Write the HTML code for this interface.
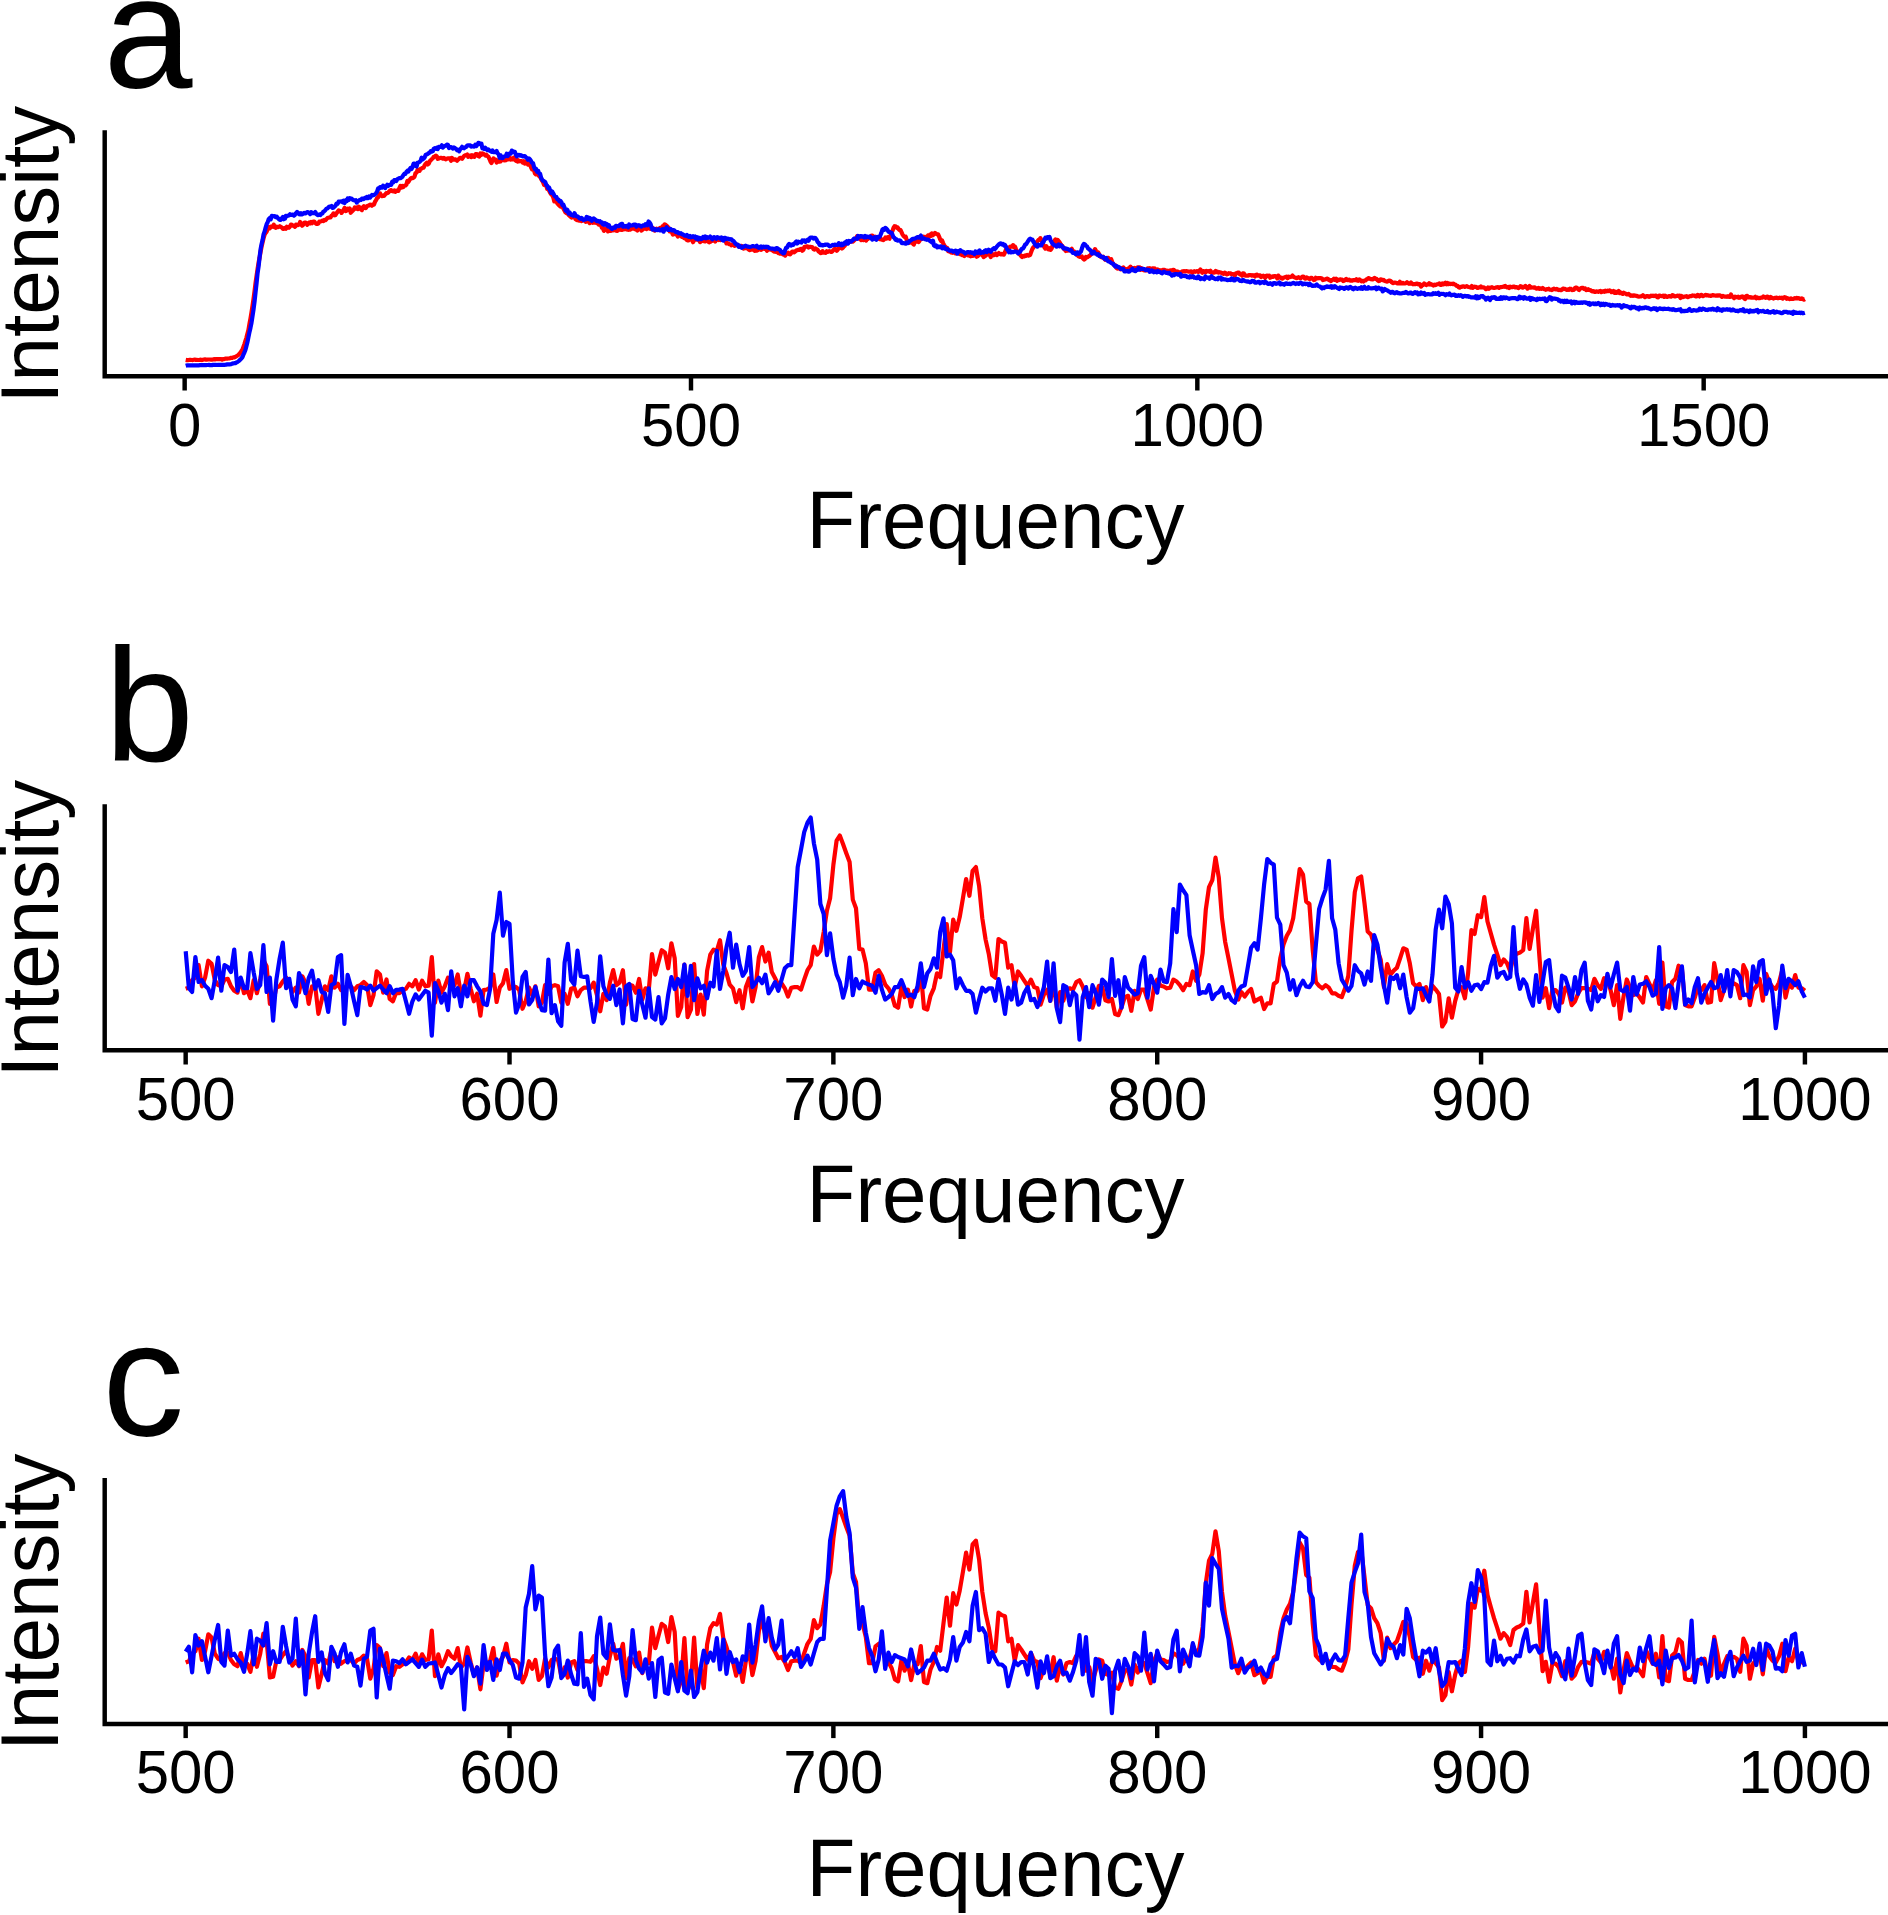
<!DOCTYPE html>
<html><head><meta charset="utf-8"><title>Figure</title>
<style>html,body{margin:0;padding:0;background:#fff}svg{display:block}text{font-family:'Liberation Sans', sans-serif;fill:#000}</style></head><body>
<svg width="1888" height="1915" viewBox="0 0 1888 1915">
<rect width="1888" height="1915" fill="#fff"/>
<path d="M185.7 359.9 L186.7 360.1 L187.7 360.2 L188.7 360.0 L189.7 359.8 L190.7 359.9 L191.7 360.0 L192.8 360.1 L193.8 359.8 L194.8 359.6 L195.8 359.9 L196.8 359.9 L197.8 360.0 L198.8 360.0 L199.8 359.8 L200.8 359.7 L201.9 360.1 L202.9 359.7 L203.9 359.5 L204.9 359.4 L205.9 359.6 L206.9 359.6 L207.9 359.5 L208.9 359.5 L210.0 359.5 L211.0 359.6 L212.0 359.6 L213.0 359.5 L214.0 359.1 L215.0 359.4 L216.0 359.1 L217.1 359.2 L218.1 359.0 L219.1 359.2 L220.1 359.1 L221.1 359.2 L222.1 359.7 L223.1 359.2 L224.1 359.1 L225.2 358.7 L226.2 358.6 L227.2 358.7 L228.2 358.5 L229.2 358.4 L230.2 358.2 L231.2 357.8 L232.2 357.8 L233.3 357.3 L234.3 357.5 L235.3 356.9 L236.3 356.4 L237.3 355.6 L238.3 355.1 L239.3 354.1 L240.3 352.8 L241.4 351.1 L242.4 349.8 L243.4 347.0 L244.4 344.1 L245.4 340.8 L246.4 337.8 L247.4 333.7 L248.4 330.1 L249.5 323.7 L250.5 318.4 L251.5 312.4 L252.5 305.7 L253.5 299.1 L254.5 291.5 L255.5 283.3 L256.6 275.5 L257.6 268.7 L258.6 262.5 L259.6 257.5 L260.6 251.8 L261.6 246.6 L262.6 242.3 L263.6 238.1 L264.6 234.7 L265.7 232.8 L266.7 231.6 L267.7 229.0 L268.7 227.2 L269.7 228.4 L270.7 226.6 L271.7 226.8 L272.8 226.7 L273.8 224.7 L274.8 227.4 L275.8 227.8 L276.8 226.7 L277.8 227.1 L278.8 226.9 L279.8 226.2 L280.9 226.9 L281.9 227.7 L282.9 228.8 L283.9 228.8 L284.9 227.9 L285.9 228.7 L286.9 226.8 L287.9 227.6 L289.0 227.8 L290.0 226.5 L291.0 224.6 L292.0 224.8 L293.0 225.7 L294.0 226.0 L295.0 226.8 L296.0 224.5 L297.1 224.7 L298.1 225.2 L299.1 224.4 L300.1 222.0 L301.1 224.1 L302.1 225.8 L303.1 224.9 L304.1 222.8 L305.2 222.5 L306.2 222.9 L307.2 224.8 L308.2 223.4 L309.2 222.5 L310.2 223.4 L311.2 221.9 L312.2 223.2 L313.3 221.5 L314.3 221.5 L315.3 222.8 L316.3 224.0 L317.3 223.8 L318.3 223.7 L319.3 221.6 L320.4 221.5 L321.4 221.1 L322.4 220.6 L323.4 221.1 L324.4 219.9 L325.4 220.2 L326.4 219.2 L327.4 218.1 L328.4 217.8 L329.5 217.5 L330.5 217.4 L331.5 215.7 L332.5 215.1 L333.5 213.4 L334.5 215.3 L335.5 215.1 L336.6 213.1 L337.6 211.9 L338.6 210.4 L339.6 210.9 L340.6 211.0 L341.6 212.9 L342.6 211.4 L343.6 210.0 L344.6 208.0 L345.7 211.1 L346.7 210.6 L347.7 208.8 L348.7 209.9 L349.7 208.4 L350.7 212.8 L351.7 211.5 L352.8 210.6 L353.8 209.6 L354.8 207.4 L355.8 208.6 L356.8 207.5 L357.8 209.1 L358.8 206.8 L359.8 207.3 L360.9 209.3 L361.9 210.1 L362.9 207.4 L363.9 206.2 L364.9 207.9 L365.9 208.1 L366.9 206.2 L367.9 205.8 L369.0 205.5 L370.0 204.7 L371.0 204.8 L372.0 205.7 L373.0 204.4 L374.0 204.6 L375.0 201.7 L376.1 200.1 L377.1 198.0 L378.1 197.4 L379.1 195.2 L380.1 193.4 L381.1 195.2 L382.1 196.2 L383.1 195.7 L384.1 195.8 L385.2 194.5 L386.2 193.1 L387.2 193.2 L388.2 192.6 L389.2 191.5 L390.2 190.4 L391.2 190.1 L392.2 191.2 L393.3 191.3 L394.3 190.5 L395.3 191.9 L396.3 190.7 L397.3 190.6 L398.3 190.9 L399.3 188.3 L400.4 186.0 L401.4 187.6 L402.4 185.9 L403.4 187.0 L404.4 185.7 L405.4 185.5 L406.4 184.7 L407.4 180.8 L408.4 181.9 L409.5 180.0 L410.5 178.7 L411.5 177.9 L412.5 178.2 L413.5 177.6 L414.5 176.8 L415.5 173.1 L416.6 172.6 L417.6 169.8 L418.6 170.7 L419.6 170.9 L420.6 168.8 L421.6 168.5 L422.6 167.8 L423.6 167.7 L424.7 165.1 L425.7 163.7 L426.7 162.8 L427.7 164.5 L428.7 163.6 L429.7 161.3 L430.7 160.3 L431.7 159.2 L432.8 158.2 L433.8 156.8 L434.8 156.5 L435.8 155.6 L436.8 156.2 L437.8 158.9 L438.8 158.5 L439.9 158.1 L440.9 157.8 L441.9 158.1 L442.9 158.7 L443.9 157.9 L444.9 158.8 L445.9 159.3 L446.9 158.5 L447.9 158.4 L449.0 158.3 L450.0 158.4 L451.0 160.7 L452.0 158.0 L453.0 159.7 L454.0 159.7 L455.0 159.3 L456.1 159.7 L457.1 160.7 L458.1 159.6 L459.1 158.8 L460.1 157.8 L461.1 157.9 L462.1 158.8 L463.1 157.4 L464.1 156.0 L465.2 155.3 L466.2 155.1 L467.2 154.5 L468.2 156.8 L469.2 156.4 L470.2 155.4 L471.2 157.1 L472.2 155.3 L473.3 156.5 L474.3 156.9 L475.3 154.5 L476.3 154.0 L477.3 154.5 L478.3 156.1 L479.3 156.5 L480.4 153.5 L481.4 154.9 L482.4 153.4 L483.4 153.9 L484.4 154.5 L485.4 155.5 L486.4 154.7 L487.4 156.0 L488.4 156.7 L489.5 159.0 L490.5 161.5 L491.5 163.0 L492.5 160.3 L493.5 158.4 L494.5 159.6 L495.5 159.5 L496.6 162.5 L497.6 161.8 L498.6 160.2 L499.6 161.6 L500.6 161.5 L501.6 159.2 L502.6 159.7 L503.6 160.2 L504.7 160.5 L505.7 160.3 L506.7 159.5 L507.7 159.5 L508.7 158.4 L509.7 157.5 L510.7 159.5 L511.8 159.1 L512.8 159.4 L513.8 157.6 L514.8 159.0 L515.8 160.7 L516.8 159.2 L517.8 161.6 L518.8 160.6 L519.9 161.3 L520.9 161.0 L521.9 161.3 L522.9 162.6 L523.9 161.2 L524.9 163.6 L525.9 162.2 L526.9 162.3 L528.0 164.6 L529.0 163.8 L530.0 164.8 L531.0 167.2 L532.0 169.2 L533.0 167.4 L534.0 170.4 L535.0 173.5 L536.0 174.5 L537.1 174.2 L538.1 174.7 L539.1 176.2 L540.1 176.8 L541.1 178.9 L542.1 180.6 L543.1 182.2 L544.1 185.0 L545.2 185.3 L546.2 185.2 L547.2 189.0 L548.2 189.0 L549.2 190.8 L550.2 192.8 L551.2 194.3 L552.2 195.2 L553.3 197.4 L554.3 201.4 L555.3 200.3 L556.3 201.3 L557.3 203.5 L558.3 204.4 L559.3 205.4 L560.4 206.5 L561.4 204.9 L562.4 206.4 L563.4 208.6 L564.4 210.4 L565.4 212.4 L566.4 213.1 L567.4 213.5 L568.5 214.7 L569.5 215.7 L570.5 216.6 L571.5 217.5 L572.5 217.0 L573.5 216.7 L574.5 216.9 L575.5 219.0 L576.6 219.9 L577.6 220.2 L578.6 220.4 L579.6 220.7 L580.6 220.2 L581.6 221.0 L582.6 219.9 L583.6 220.5 L584.7 220.3 L585.7 221.7 L586.7 220.9 L587.7 221.3 L588.7 221.9 L589.7 223.1 L590.7 221.6 L591.8 221.2 L592.8 222.8 L593.8 221.5 L594.8 222.7 L595.8 222.2 L596.8 223.1 L597.8 222.2 L598.8 224.7 L599.9 224.7 L600.9 224.8 L601.9 227.9 L602.9 228.0 L603.9 230.9 L604.9 229.3 L605.9 228.7 L606.9 229.4 L608.0 231.4 L609.0 230.9 L610.0 231.0 L611.0 231.0 L612.0 229.7 L613.0 230.3 L614.0 229.8 L615.0 229.0 L616.0 230.7 L617.1 230.8 L618.1 230.3 L619.1 229.3 L620.1 228.0 L621.1 229.9 L622.1 229.8 L623.1 228.3 L624.1 229.3 L625.2 228.2 L626.2 229.2 L627.2 229.6 L628.2 229.8 L629.2 229.7 L630.2 229.6 L631.2 228.3 L632.2 228.7 L633.3 228.6 L634.3 228.8 L635.3 229.2 L636.3 229.6 L637.3 230.5 L638.3 227.0 L639.3 228.7 L640.4 228.5 L641.4 230.6 L642.4 229.9 L643.4 227.4 L644.4 228.5 L645.4 228.0 L646.4 229.1 L647.4 227.7 L648.5 228.3 L649.5 228.6 L650.5 228.9 L651.5 228.7 L652.5 227.7 L653.5 229.6 L654.5 230.7 L655.5 230.1 L656.6 228.7 L657.6 229.1 L658.6 229.2 L659.6 228.2 L660.6 227.8 L661.6 228.7 L662.6 226.3 L663.6 225.9 L664.7 224.3 L665.7 224.8 L666.7 225.9 L667.7 226.8 L668.7 228.0 L669.7 231.3 L670.7 231.1 L671.8 231.9 L672.8 234.6 L673.8 233.7 L674.8 232.3 L675.8 234.3 L676.8 233.9 L677.8 236.5 L678.8 235.0 L679.9 235.6 L680.9 235.2 L681.9 237.0 L682.9 236.8 L683.9 238.0 L684.9 238.4 L685.9 238.7 L686.9 240.1 L688.0 240.5 L689.0 240.0 L690.0 239.1 L691.0 238.8 L692.0 240.0 L693.0 242.2 L694.0 240.4 L695.0 239.7 L696.0 239.7 L697.1 239.5 L698.1 239.6 L699.1 240.4 L700.1 242.1 L701.1 241.3 L702.1 240.8 L703.1 239.8 L704.1 241.2 L705.2 241.5 L706.2 240.6 L707.2 240.6 L708.2 241.5 L709.2 242.3 L710.2 241.9 L711.2 241.3 L712.3 240.4 L713.3 240.6 L714.3 240.1 L715.3 241.6 L716.3 239.0 L717.3 238.8 L718.3 239.9 L719.4 238.6 L720.4 240.0 L721.4 239.5 L722.4 239.9 L723.4 240.0 L724.4 239.5 L725.4 240.1 L726.4 243.4 L727.5 243.2 L728.5 243.5 L729.5 244.3 L730.5 244.5 L731.5 245.3 L732.5 244.7 L733.5 244.7 L734.5 245.9 L735.5 245.3 L736.6 244.5 L737.6 245.4 L738.6 245.6 L739.6 246.8 L740.6 246.1 L741.6 245.9 L742.6 246.6 L743.6 248.6 L744.7 247.9 L745.7 248.1 L746.7 248.2 L747.7 248.7 L748.7 249.5 L749.7 250.1 L750.7 247.7 L751.8 249.6 L752.8 249.0 L753.8 248.7 L754.8 250.8 L755.8 249.3 L756.8 250.7 L757.8 250.2 L758.8 248.5 L759.9 249.4 L760.9 249.8 L761.9 249.3 L762.9 247.3 L763.9 248.5 L764.9 249.0 L765.9 248.4 L766.9 250.7 L768.0 249.6 L769.0 249.2 L770.0 249.6 L771.0 249.5 L772.0 249.8 L773.0 250.9 L774.0 251.6 L775.0 251.4 L776.1 252.0 L777.1 251.4 L778.1 253.0 L779.1 252.7 L780.1 253.7 L781.1 253.3 L782.1 253.8 L783.1 254.5 L784.2 253.2 L785.2 255.7 L786.2 254.2 L787.2 253.6 L788.2 252.7 L789.2 254.2 L790.2 254.3 L791.2 253.2 L792.3 251.5 L793.3 251.5 L794.3 252.3 L795.3 251.4 L796.3 250.5 L797.3 250.1 L798.3 249.9 L799.4 250.0 L800.4 249.1 L801.4 248.9 L802.4 250.7 L803.4 249.9 L804.4 246.9 L805.4 246.8 L806.4 246.3 L807.5 246.3 L808.5 247.5 L809.5 246.8 L810.5 246.9 L811.5 247.0 L812.5 247.5 L813.5 249.1 L814.5 249.6 L815.5 248.4 L816.6 249.3 L817.6 249.7 L818.6 251.6 L819.6 252.0 L820.6 253.1 L821.6 253.0 L822.6 251.2 L823.6 252.6 L824.7 252.7 L825.7 252.8 L826.7 251.3 L827.7 251.9 L828.7 251.4 L829.7 251.2 L830.7 251.8 L831.8 251.9 L832.8 250.8 L833.8 249.8 L834.8 248.8 L835.8 249.7 L836.8 250.8 L837.8 249.7 L838.8 247.1 L839.9 247.2 L840.9 247.8 L841.9 248.5 L842.9 247.8 L843.9 246.5 L844.9 245.6 L845.9 243.8 L846.9 243.4 L848.0 242.9 L849.0 242.0 L850.0 241.9 L851.0 241.1 L852.0 241.0 L853.0 241.5 L854.0 240.5 L855.0 239.5 L856.1 238.2 L857.1 236.3 L858.1 237.6 L859.1 238.7 L860.1 238.0 L861.1 240.0 L862.1 239.4 L863.1 240.2 L864.2 239.8 L865.2 238.4 L866.2 240.5 L867.2 237.9 L868.2 238.7 L869.2 237.2 L870.2 237.2 L871.2 235.8 L872.3 235.5 L873.3 236.9 L874.3 238.5 L875.3 236.8 L876.3 237.4 L877.3 238.7 L878.3 238.0 L879.4 239.2 L880.4 238.6 L881.4 239.6 L882.4 239.5 L883.4 240.0 L884.4 239.2 L885.4 237.5 L886.4 238.6 L887.5 237.2 L888.5 238.2 L889.5 238.7 L890.5 235.7 L891.5 232.1 L892.5 230.9 L893.5 227.9 L894.5 226.2 L895.5 226.4 L896.6 227.8 L897.6 227.5 L898.6 229.0 L899.6 230.1 L900.6 230.2 L901.6 232.3 L902.6 234.6 L903.6 236.0 L904.7 237.1 L905.7 236.7 L906.7 240.2 L907.7 241.0 L908.7 241.9 L909.7 242.8 L910.7 242.1 L911.8 242.2 L912.8 243.5 L913.8 244.6 L914.8 241.6 L915.8 241.7 L916.8 241.0 L917.8 241.5 L918.8 242.0 L919.9 240.2 L920.9 238.6 L921.9 238.9 L922.9 238.3 L923.9 236.8 L924.9 238.2 L925.9 237.0 L926.9 237.4 L928.0 235.5 L929.0 236.8 L930.0 234.6 L931.0 235.9 L932.0 233.4 L933.0 235.2 L934.0 234.1 L935.0 232.9 L936.1 233.7 L937.1 234.4 L938.1 234.3 L939.1 236.6 L940.1 239.3 L941.1 241.1 L942.1 240.4 L943.1 243.1 L944.2 245.3 L945.2 246.5 L946.2 248.1 L947.2 247.9 L948.2 251.2 L949.2 251.4 L950.2 251.8 L951.2 252.5 L952.3 252.8 L953.3 252.4 L954.3 251.9 L955.3 253.4 L956.3 253.5 L957.3 251.8 L958.3 252.3 L959.4 253.9 L960.4 254.2 L961.4 254.6 L962.4 255.2 L963.4 254.9 L964.4 256.0 L965.4 254.6 L966.4 254.4 L967.5 255.0 L968.5 255.5 L969.5 255.7 L970.5 256.3 L971.5 254.9 L972.5 255.9 L973.5 255.7 L974.5 254.4 L975.5 254.9 L976.6 256.8 L977.6 256.2 L978.6 255.2 L979.6 253.4 L980.6 254.3 L981.6 254.6 L982.6 255.3 L983.6 257.1 L984.7 256.3 L985.7 255.7 L986.7 254.5 L987.7 253.9 L988.7 254.5 L989.7 254.4 L990.7 257.1 L991.8 254.9 L992.8 254.2 L993.8 255.3 L994.8 254.7 L995.8 253.5 L996.8 255.1 L997.8 254.2 L998.8 253.1 L999.9 254.1 L1000.9 254.4 L1001.9 253.8 L1002.9 254.4 L1003.9 254.6 L1004.9 252.5 L1005.9 249.7 L1007.0 247.7 L1008.0 247.9 L1009.0 248.1 L1010.0 246.8 L1011.0 246.5 L1012.0 246.6 L1013.0 245.1 L1014.0 247.1 L1015.0 246.6 L1016.1 249.5 L1017.1 251.2 L1018.1 252.4 L1019.1 253.7 L1020.1 254.7 L1021.1 256.1 L1022.1 257.1 L1023.1 256.0 L1024.2 256.4 L1025.2 255.4 L1026.2 255.8 L1027.2 254.9 L1028.2 255.7 L1029.2 255.3 L1030.2 254.8 L1031.2 251.9 L1032.3 249.1 L1033.3 247.4 L1034.3 246.5 L1035.3 245.3 L1036.3 242.4 L1037.3 241.5 L1038.3 240.1 L1039.3 239.9 L1040.4 238.1 L1041.4 240.4 L1042.4 241.6 L1043.4 245.2 L1044.4 247.3 L1045.4 248.6 L1046.4 246.3 L1047.5 248.5 L1048.5 249.3 L1049.5 248.2 L1050.5 249.9 L1051.5 248.6 L1052.5 246.1 L1053.5 243.3 L1054.5 240.7 L1055.5 239.4 L1056.6 242.0 L1057.6 239.9 L1058.6 241.1 L1059.6 242.4 L1060.6 244.1 L1061.6 245.3 L1062.6 246.2 L1063.7 248.8 L1064.7 249.4 L1065.7 251.0 L1066.7 249.4 L1067.7 250.6 L1068.7 250.1 L1069.7 250.4 L1070.8 249.7 L1071.8 248.8 L1072.8 251.0 L1073.8 251.2 L1074.8 252.4 L1075.8 252.9 L1076.8 254.8 L1077.8 255.4 L1078.8 256.4 L1079.9 257.0 L1080.9 256.8 L1081.9 256.5 L1082.9 258.3 L1083.9 259.5 L1084.9 259.0 L1085.9 256.9 L1087.0 257.3 L1088.0 256.8 L1089.0 256.1 L1090.0 255.5 L1091.0 254.3 L1092.0 253.6 L1093.0 253.2 L1094.0 251.2 L1095.0 249.1 L1096.1 251.1 L1097.1 252.7 L1098.1 252.3 L1099.1 254.0 L1100.1 256.3 L1101.1 257.1 L1102.1 257.5 L1103.2 256.7 L1104.2 258.4 L1105.2 259.7 L1106.2 258.6 L1107.2 258.1 L1108.2 257.9 L1109.2 259.6 L1110.2 259.6 L1111.2 259.2 L1112.3 262.3 L1113.3 263.9 L1114.3 265.5 L1115.3 265.3 L1116.3 267.8 L1117.3 268.5 L1118.3 267.3 L1119.3 268.6 L1120.4 269.3 L1121.4 269.2 L1122.4 267.9 L1123.4 267.5 L1124.4 268.7 L1125.4 269.0 L1126.4 269.3 L1127.5 269.3 L1128.5 268.4 L1129.5 267.9 L1130.5 266.7 L1131.5 268.4 L1132.5 270.0 L1133.5 268.3 L1134.5 267.9 L1135.6 268.7 L1136.6 268.7 L1137.6 267.4 L1138.6 267.6 L1139.6 267.4 L1140.6 269.8 L1141.6 268.3 L1142.7 269.2 L1143.7 270.2 L1144.7 270.5 L1145.7 270.3 L1146.7 270.4 L1147.7 268.3 L1148.7 268.5 L1149.7 268.2 L1150.8 268.6 L1151.8 270.9 L1152.8 268.3 L1153.8 269.4 L1154.8 268.4 L1155.8 270.2 L1156.8 270.7 L1157.8 269.5 L1158.8 271.2 L1159.9 270.2 L1160.9 271.0 L1161.9 270.5 L1162.9 269.8 L1163.9 269.8 L1164.9 270.1 L1165.9 270.8 L1167.0 270.7 L1168.0 272.4 L1169.0 271.0 L1170.0 270.5 L1171.0 270.3 L1172.0 270.3 L1173.0 269.8 L1174.0 270.1 L1175.0 271.7 L1176.1 271.6 L1177.1 271.4 L1178.1 271.8 L1179.1 272.4 L1180.1 272.3 L1181.1 272.4 L1182.1 271.4 L1183.2 271.4 L1184.2 271.1 L1185.2 271.5 L1186.2 271.1 L1187.2 271.3 L1188.2 271.6 L1189.2 271.6 L1190.2 271.6 L1191.2 271.4 L1192.3 272.8 L1193.3 271.9 L1194.3 271.2 L1195.3 271.9 L1196.3 271.2 L1197.3 271.0 L1198.3 271.9 L1199.4 270.8 L1200.4 269.4 L1201.4 271.7 L1202.4 272.8 L1203.4 271.1 L1204.4 271.3 L1205.4 272.4 L1206.4 270.8 L1207.5 271.3 L1208.5 271.2 L1209.5 271.9 L1210.5 270.8 L1211.5 272.7 L1212.5 272.4 L1213.5 272.7 L1214.5 272.4 L1215.6 271.0 L1216.6 272.2 L1217.6 271.7 L1218.6 272.6 L1219.6 272.2 L1220.6 272.6 L1221.6 272.8 L1222.7 273.6 L1223.7 273.9 L1224.7 272.7 L1225.7 273.2 L1226.7 274.4 L1227.7 274.1 L1228.7 273.2 L1229.7 273.4 L1230.8 273.4 L1231.8 274.4 L1232.8 274.0 L1233.8 274.2 L1234.8 275.7 L1235.8 273.4 L1236.8 273.2 L1237.8 272.6 L1238.8 272.7 L1239.9 274.5 L1240.9 274.6 L1241.9 275.7 L1242.9 273.3 L1243.9 273.6 L1244.9 275.4 L1245.9 275.6 L1247.0 275.6 L1248.0 275.7 L1249.0 275.1 L1250.0 275.0 L1251.0 275.0 L1252.0 275.7 L1253.0 275.2 L1254.0 275.4 L1255.0 276.4 L1256.1 274.8 L1257.1 274.7 L1258.1 275.7 L1259.1 275.4 L1260.1 275.4 L1261.1 277.1 L1262.1 276.4 L1263.2 275.6 L1264.2 276.6 L1265.2 277.9 L1266.2 275.7 L1267.2 275.5 L1268.2 276.1 L1269.2 275.7 L1270.2 277.7 L1271.3 277.1 L1272.3 276.3 L1273.3 276.8 L1274.3 276.0 L1275.3 276.0 L1276.3 276.6 L1277.3 278.4 L1278.3 275.6 L1279.4 276.8 L1280.4 277.9 L1281.4 277.7 L1282.4 278.6 L1283.4 277.8 L1284.4 277.4 L1285.4 277.1 L1286.5 276.6 L1287.5 278.3 L1288.5 276.7 L1289.5 277.1 L1290.5 276.9 L1291.5 276.7 L1292.5 275.6 L1293.5 276.7 L1294.5 277.4 L1295.6 277.6 L1296.6 278.2 L1297.6 277.6 L1298.6 277.2 L1299.6 277.8 L1300.6 278.2 L1301.6 277.2 L1302.7 276.5 L1303.7 276.8 L1304.7 278.4 L1305.7 278.7 L1306.7 277.5 L1307.7 277.9 L1308.7 278.6 L1309.7 279.1 L1310.8 277.9 L1311.8 277.9 L1312.8 279.1 L1313.8 280.1 L1314.8 279.8 L1315.8 277.8 L1316.8 278.5 L1317.8 278.1 L1318.8 278.3 L1319.9 278.0 L1320.9 278.1 L1321.9 278.5 L1322.9 280.0 L1323.9 279.7 L1324.9 279.4 L1325.9 279.2 L1327.0 278.6 L1328.0 278.9 L1329.0 280.1 L1330.0 280.2 L1331.0 281.1 L1332.0 280.1 L1333.0 279.8 L1334.0 278.6 L1335.0 279.8 L1336.1 278.7 L1337.1 280.8 L1338.1 279.8 L1339.1 280.1 L1340.1 279.3 L1341.1 279.7 L1342.1 279.6 L1343.2 281.1 L1344.2 280.8 L1345.2 279.8 L1346.2 278.9 L1347.2 280.1 L1348.2 280.1 L1349.2 279.6 L1350.2 280.7 L1351.3 280.4 L1352.3 280.6 L1353.3 280.1 L1354.3 280.0 L1355.3 280.1 L1356.3 279.2 L1357.3 280.6 L1358.3 280.8 L1359.4 279.4 L1360.4 280.3 L1361.4 281.3 L1362.4 280.9 L1363.4 281.5 L1364.4 280.6 L1365.4 280.5 L1366.5 279.3 L1367.5 279.1 L1368.5 278.1 L1369.5 278.4 L1370.5 279.1 L1371.5 279.2 L1372.5 279.5 L1373.5 278.7 L1374.5 277.9 L1375.6 278.9 L1376.6 278.9 L1377.6 280.4 L1378.6 281.1 L1379.6 280.7 L1380.6 279.3 L1381.6 279.5 L1382.7 280.2 L1383.7 279.9 L1384.7 280.9 L1385.7 281.3 L1386.7 281.6 L1387.7 281.4 L1388.7 280.6 L1389.7 280.6 L1390.8 281.2 L1391.8 282.4 L1392.8 283.1 L1393.8 282.9 L1394.8 282.5 L1395.8 282.7 L1396.8 283.0 L1397.8 283.5 L1398.8 283.4 L1399.9 281.8 L1400.9 283.3 L1401.9 283.4 L1402.9 282.9 L1403.9 283.5 L1404.9 283.5 L1405.9 283.3 L1407.0 282.2 L1408.0 283.2 L1409.0 283.8 L1410.0 283.6 L1411.0 282.5 L1412.0 283.7 L1413.0 284.3 L1414.0 284.1 L1415.1 284.2 L1416.1 283.8 L1417.1 283.5 L1418.1 284.3 L1419.1 284.0 L1420.1 284.3 L1421.1 286.6 L1422.1 285.4 L1423.2 284.8 L1424.2 283.4 L1425.2 284.4 L1426.2 285.1 L1427.2 284.3 L1428.2 284.5 L1429.2 283.1 L1430.2 284.6 L1431.3 284.2 L1432.3 284.9 L1433.3 285.5 L1434.3 284.6 L1435.3 285.1 L1436.3 284.7 L1437.3 284.2 L1438.3 284.0 L1439.4 283.5 L1440.4 284.9 L1441.4 284.9 L1442.4 283.5 L1443.4 284.4 L1444.4 283.5 L1445.4 282.7 L1446.5 284.3 L1447.5 282.9 L1448.5 284.2 L1449.5 283.7 L1450.5 284.1 L1451.5 283.8 L1452.5 284.1 L1453.5 283.6 L1454.5 284.4 L1455.6 284.8 L1456.6 286.0 L1457.6 285.8 L1458.6 287.1 L1459.6 287.7 L1460.6 286.8 L1461.6 287.0 L1462.7 286.4 L1463.7 286.4 L1464.7 286.9 L1465.7 286.6 L1466.7 286.2 L1467.7 286.7 L1468.7 287.0 L1469.7 287.2 L1470.8 287.6 L1471.8 286.0 L1472.8 287.8 L1473.8 287.2 L1474.8 286.7 L1475.8 286.9 L1476.8 287.5 L1477.8 288.0 L1478.9 287.3 L1479.9 287.5 L1480.9 286.4 L1481.9 287.4 L1482.9 287.5 L1483.9 287.3 L1484.9 288.2 L1485.9 289.1 L1487.0 288.8 L1488.0 287.5 L1489.0 288.7 L1490.0 287.7 L1491.0 287.6 L1492.0 287.2 L1493.0 287.8 L1494.0 288.0 L1495.1 287.7 L1496.1 287.4 L1497.1 287.3 L1498.1 287.1 L1499.1 287.9 L1500.1 287.1 L1501.1 287.1 L1502.2 287.0 L1503.2 286.6 L1504.2 286.8 L1505.2 286.0 L1506.2 287.1 L1507.2 287.4 L1508.2 286.9 L1509.2 288.0 L1510.2 286.6 L1511.3 287.1 L1512.3 287.2 L1513.3 286.5 L1514.3 286.6 L1515.3 287.5 L1516.3 287.1 L1517.3 287.3 L1518.3 288.1 L1519.4 287.5 L1520.4 286.1 L1521.4 286.5 L1522.4 287.7 L1523.4 287.4 L1524.4 286.7 L1525.4 285.9 L1526.5 287.4 L1527.5 288.6 L1528.5 287.0 L1529.5 286.0 L1530.5 287.7 L1531.5 287.4 L1532.5 287.5 L1533.5 287.6 L1534.5 287.3 L1535.6 288.1 L1536.6 288.7 L1537.6 288.5 L1538.6 287.9 L1539.6 288.9 L1540.6 288.4 L1541.6 288.8 L1542.7 288.0 L1543.7 288.9 L1544.7 289.2 L1545.7 289.8 L1546.7 289.1 L1547.7 289.3 L1548.7 288.7 L1549.7 289.6 L1550.8 289.8 L1551.8 290.1 L1552.8 289.3 L1553.8 288.6 L1554.8 289.2 L1555.8 289.3 L1556.8 288.9 L1557.8 289.7 L1558.9 290.1 L1559.9 289.8 L1560.9 290.2 L1561.9 289.8 L1562.9 288.7 L1563.9 288.7 L1564.9 288.9 L1566.0 289.6 L1567.0 289.9 L1568.0 289.4 L1569.0 289.9 L1570.0 288.7 L1571.0 288.9 L1572.0 290.0 L1573.0 289.5 L1574.0 289.8 L1575.1 287.9 L1576.1 287.5 L1577.1 287.9 L1578.1 289.3 L1579.1 290.0 L1580.1 288.7 L1581.1 288.1 L1582.2 287.9 L1583.2 287.9 L1584.2 288.9 L1585.2 288.5 L1586.2 290.1 L1587.2 290.0 L1588.2 289.2 L1589.2 289.9 L1590.2 290.0 L1591.3 290.9 L1592.3 291.4 L1593.3 291.0 L1594.3 291.8 L1595.3 291.8 L1596.3 291.3 L1597.3 291.5 L1598.3 291.8 L1599.4 291.3 L1600.4 290.9 L1601.4 292.2 L1602.4 291.7 L1603.4 291.2 L1604.4 291.8 L1605.4 290.6 L1606.5 291.4 L1607.5 290.7 L1608.5 291.2 L1609.5 290.4 L1610.5 290.9 L1611.5 292.2 L1612.5 291.8 L1613.5 291.0 L1614.5 292.8 L1615.6 291.7 L1616.6 292.9 L1617.6 291.9 L1618.6 291.0 L1619.6 293.1 L1620.6 292.4 L1621.6 293.2 L1622.7 293.9 L1623.7 292.6 L1624.7 293.5 L1625.7 293.5 L1626.7 294.4 L1627.7 294.5 L1628.7 293.9 L1629.7 294.9 L1630.8 295.8 L1631.8 295.4 L1632.8 295.8 L1633.8 295.3 L1634.8 295.5 L1635.8 295.8 L1636.8 295.8 L1637.8 296.5 L1638.9 296.6 L1639.9 296.5 L1640.9 296.4 L1641.9 296.1 L1642.9 295.2 L1643.9 296.4 L1644.9 297.2 L1646.0 296.5 L1647.0 296.0 L1648.0 296.1 L1649.0 296.9 L1650.0 296.5 L1651.0 295.7 L1652.0 296.0 L1653.0 295.7 L1654.0 296.1 L1655.1 295.7 L1656.1 295.7 L1657.1 297.2 L1658.1 297.3 L1659.1 295.7 L1660.1 295.7 L1661.1 296.1 L1662.2 296.2 L1663.2 295.6 L1664.2 296.9 L1665.2 295.6 L1666.2 296.8 L1667.2 297.0 L1668.2 296.4 L1669.2 296.1 L1670.2 296.4 L1671.3 296.6 L1672.3 295.2 L1673.3 295.3 L1674.3 296.5 L1675.3 296.4 L1676.3 296.1 L1677.3 295.7 L1678.3 295.8 L1679.4 295.7 L1680.4 298.0 L1681.4 296.0 L1682.4 297.2 L1683.4 296.9 L1684.4 296.6 L1685.4 296.5 L1686.5 296.1 L1687.5 297.2 L1688.5 296.8 L1689.5 296.3 L1690.5 296.1 L1691.5 296.2 L1692.5 295.4 L1693.5 295.7 L1694.6 295.5 L1695.6 296.3 L1696.6 296.4 L1697.6 294.9 L1698.6 295.5 L1699.6 296.4 L1700.6 295.1 L1701.6 294.9 L1702.7 296.2 L1703.7 295.8 L1704.7 295.4 L1705.7 294.8 L1706.7 295.5 L1707.7 295.2 L1708.7 295.6 L1709.8 295.8 L1710.8 296.0 L1711.8 295.4 L1712.8 295.1 L1713.8 295.4 L1714.8 295.5 L1715.8 295.7 L1716.8 295.4 L1717.8 295.6 L1718.9 295.4 L1719.9 295.4 L1720.9 296.0 L1721.9 296.8 L1722.9 296.0 L1723.9 296.5 L1724.9 296.6 L1726.0 296.5 L1727.0 296.9 L1728.0 296.2 L1729.0 296.8 L1730.0 296.9 L1731.0 294.5 L1732.0 296.4 L1733.0 297.1 L1734.0 298.2 L1735.1 296.6 L1736.1 297.0 L1737.1 297.3 L1738.1 296.6 L1739.1 297.8 L1740.1 297.6 L1741.1 296.8 L1742.2 296.4 L1743.2 296.8 L1744.2 298.6 L1745.2 299.0 L1746.2 296.1 L1747.2 295.9 L1748.2 297.4 L1749.2 297.3 L1750.2 297.0 L1751.3 297.7 L1752.3 297.5 L1753.3 297.6 L1754.3 297.7 L1755.3 296.8 L1756.3 298.2 L1757.3 297.4 L1758.3 298.2 L1759.4 298.2 L1760.4 297.8 L1761.4 297.7 L1762.4 297.6 L1763.4 296.5 L1764.4 297.2 L1765.4 297.9 L1766.5 296.8 L1767.5 296.6 L1768.5 298.2 L1769.5 298.4 L1770.5 297.0 L1771.5 298.0 L1772.5 297.9 L1773.5 298.6 L1774.6 297.9 L1775.6 297.9 L1776.6 297.6 L1777.6 298.1 L1778.6 298.1 L1779.6 297.7 L1780.6 297.9 L1781.7 297.7 L1782.7 298.5 L1783.7 297.7 L1784.7 297.2 L1785.7 297.5 L1786.7 298.9 L1787.7 298.2 L1788.7 298.8 L1789.8 299.1 L1790.8 298.3 L1791.8 299.0 L1792.8 299.0 L1793.8 298.7 L1794.8 298.2 L1795.8 298.5 L1796.8 297.8 L1797.8 298.3 L1798.9 298.2 L1799.9 298.9 L1800.9 299.0 L1801.9 298.4 L1802.9 299.2 L1803.9 299.7 L1804.9 299.1" fill="none" stroke="#ff0000" stroke-width="4.2" stroke-linejoin="round" stroke-linecap="butt"/>
<path d="M185.7 365.7 L186.7 365.4 L187.7 365.4 L188.7 365.4 L189.7 365.3 L190.7 365.3 L191.7 365.3 L192.8 365.3 L193.8 365.4 L194.8 365.4 L195.8 365.4 L196.8 365.4 L197.8 365.4 L198.8 365.3 L199.8 365.2 L200.8 365.1 L201.9 365.0 L202.9 365.1 L203.9 365.1 L204.9 365.2 L205.9 365.2 L206.9 365.0 L207.9 365.0 L208.9 364.9 L210.0 365.2 L211.0 365.1 L212.0 365.1 L213.0 364.9 L214.0 364.8 L215.0 364.9 L216.0 364.9 L217.1 365.0 L218.1 364.8 L219.1 364.9 L220.1 364.8 L221.1 364.8 L222.1 364.9 L223.1 364.8 L224.1 364.8 L225.2 364.8 L226.2 364.6 L227.2 364.4 L228.2 364.4 L229.2 364.4 L230.2 364.3 L231.2 364.1 L232.2 363.6 L233.3 363.4 L234.3 363.2 L235.3 363.2 L236.3 362.5 L237.3 362.1 L238.3 361.4 L239.3 360.6 L240.3 359.5 L241.4 358.4 L242.4 357.1 L243.4 354.6 L244.4 352.5 L245.4 350.0 L246.4 346.2 L247.4 342.2 L248.4 337.4 L249.5 331.9 L250.5 327.7 L251.5 322.8 L252.5 316.2 L253.5 309.7 L254.5 302.1 L255.5 292.7 L256.6 283.0 L257.6 273.0 L258.6 266.5 L259.6 257.2 L260.6 249.1 L261.6 243.9 L262.6 239.8 L263.6 234.2 L264.6 231.6 L265.7 227.4 L266.7 224.1 L267.7 222.2 L268.7 219.2 L269.7 218.1 L270.7 219.3 L271.7 215.9 L272.8 216.1 L273.8 216.3 L274.8 216.2 L275.8 217.2 L276.8 216.6 L277.8 218.1 L278.8 219.1 L279.8 219.9 L280.9 219.8 L281.9 218.1 L282.9 217.0 L283.9 219.2 L284.9 218.7 L285.9 215.8 L286.9 216.3 L287.9 215.6 L289.0 215.5 L290.0 214.2 L291.0 214.9 L292.0 214.7 L293.0 214.7 L294.0 215.6 L295.0 214.8 L296.0 213.1 L297.1 211.9 L298.1 212.6 L299.1 214.3 L300.1 214.5 L301.1 213.1 L302.1 214.3 L303.1 213.9 L304.1 212.8 L305.2 213.5 L306.2 213.1 L307.2 212.0 L308.2 212.3 L309.2 212.9 L310.2 214.1 L311.2 212.2 L312.2 213.0 L313.3 213.1 L314.3 213.1 L315.3 212.0 L316.3 214.1 L317.3 214.8 L318.3 215.2 L319.3 214.4 L320.4 215.0 L321.4 213.7 L322.4 213.4 L323.4 211.6 L324.4 211.2 L325.4 210.1 L326.4 208.7 L327.4 208.5 L328.4 207.3 L329.5 206.6 L330.5 206.6 L331.5 206.0 L332.5 207.9 L333.5 207.7 L334.5 206.6 L335.5 205.7 L336.6 203.5 L337.6 203.7 L338.6 201.7 L339.6 201.6 L340.6 201.5 L341.6 201.3 L342.6 202.2 L343.6 200.6 L344.6 203.0 L345.7 200.5 L346.7 201.0 L347.7 198.5 L348.7 200.0 L349.7 198.1 L350.7 198.7 L351.7 198.6 L352.8 199.8 L353.8 200.2 L354.8 200.4 L355.8 200.2 L356.8 202.6 L357.8 201.1 L358.8 200.8 L359.8 199.9 L360.9 200.0 L361.9 198.6 L362.9 198.5 L363.9 199.0 L364.9 197.8 L365.9 198.2 L366.9 196.9 L367.9 198.1 L369.0 196.5 L370.0 197.6 L371.0 196.3 L372.0 194.9 L373.0 195.3 L374.0 195.0 L375.0 194.4 L376.1 193.2 L377.1 191.6 L378.1 188.3 L379.1 188.8 L380.1 187.0 L381.1 187.0 L382.1 187.6 L383.1 185.6 L384.1 186.9 L385.2 188.1 L386.2 186.3 L387.2 184.8 L388.2 185.9 L389.2 184.8 L390.2 184.9 L391.2 184.8 L392.2 181.6 L393.3 182.3 L394.3 180.2 L395.3 180.1 L396.3 181.1 L397.3 179.1 L398.3 178.7 L399.3 178.2 L400.4 178.2 L401.4 177.5 L402.4 176.8 L403.4 175.0 L404.4 173.7 L405.4 173.9 L406.4 171.9 L407.4 170.8 L408.4 171.5 L409.5 169.4 L410.5 168.0 L411.5 169.0 L412.5 167.3 L413.5 163.7 L414.5 163.7 L415.5 165.8 L416.6 166.5 L417.6 162.8 L418.6 162.4 L419.6 161.9 L420.6 160.8 L421.6 157.7 L422.6 159.4 L423.6 158.6 L424.7 157.3 L425.7 154.7 L426.7 154.4 L427.7 154.1 L428.7 153.1 L429.7 152.6 L430.7 151.1 L431.7 151.6 L432.8 151.1 L433.8 148.6 L434.8 148.2 L435.8 148.8 L436.8 147.6 L437.8 149.0 L438.8 146.8 L439.9 146.8 L440.9 147.0 L441.9 145.3 L442.9 147.6 L443.9 146.6 L444.9 145.8 L445.9 145.7 L446.9 144.6 L447.9 144.8 L449.0 148.0 L450.0 147.2 L451.0 147.0 L452.0 147.7 L453.0 148.6 L454.0 147.5 L455.0 148.1 L456.1 148.9 L457.1 150.2 L458.1 149.9 L459.1 151.4 L460.1 149.3 L461.1 148.4 L462.1 146.8 L463.1 147.6 L464.1 148.3 L465.2 147.3 L466.2 146.8 L467.2 145.6 L468.2 145.4 L469.2 145.3 L470.2 145.4 L471.2 146.6 L472.2 146.2 L473.3 146.4 L474.3 146.6 L475.3 144.7 L476.3 146.1 L477.3 144.8 L478.3 142.9 L479.3 143.1 L480.4 144.3 L481.4 143.7 L482.4 148.4 L483.4 147.6 L484.4 149.1 L485.4 147.8 L486.4 149.4 L487.4 150.2 L488.4 149.5 L489.5 150.7 L490.5 151.0 L491.5 151.7 L492.5 150.4 L493.5 152.2 L494.5 152.2 L495.5 152.0 L496.6 151.0 L497.6 153.3 L498.6 154.2 L499.6 157.8 L500.6 155.3 L501.6 158.0 L502.6 158.2 L503.6 157.0 L504.7 156.3 L505.7 156.2 L506.7 153.8 L507.7 156.0 L508.7 154.5 L509.7 153.4 L510.7 153.7 L511.8 150.6 L512.8 151.3 L513.8 152.0 L514.8 151.9 L515.8 154.4 L516.8 156.3 L517.8 155.3 L518.8 154.8 L519.9 155.6 L520.9 155.1 L521.9 155.8 L522.9 156.5 L523.9 156.2 L524.9 156.1 L525.9 157.2 L526.9 158.2 L528.0 159.8 L529.0 158.5 L530.0 159.3 L531.0 160.8 L532.0 163.0 L533.0 163.1 L534.0 166.9 L535.0 169.3 L536.0 168.9 L537.1 171.9 L538.1 170.6 L539.1 173.4 L540.1 173.7 L541.1 177.7 L542.1 179.6 L543.1 180.8 L544.1 181.2 L545.2 181.9 L546.2 184.7 L547.2 185.7 L548.2 188.2 L549.2 187.7 L550.2 190.8 L551.2 192.7 L552.2 191.6 L553.3 193.5 L554.3 195.5 L555.3 196.8 L556.3 196.8 L557.3 199.2 L558.3 199.5 L559.3 201.3 L560.4 200.9 L561.4 202.2 L562.4 205.2 L563.4 204.7 L564.4 207.2 L565.4 210.2 L566.4 211.1 L567.4 209.8 L568.5 213.5 L569.5 212.4 L570.5 214.1 L571.5 215.2 L572.5 214.8 L573.5 215.8 L574.5 213.2 L575.5 215.4 L576.6 216.3 L577.6 216.4 L578.6 217.1 L579.6 218.4 L580.6 218.9 L581.6 217.9 L582.6 219.2 L583.6 220.0 L584.7 219.3 L585.7 219.4 L586.7 216.9 L587.7 217.2 L588.7 219.1 L589.7 217.9 L590.7 219.9 L591.8 220.7 L592.8 219.0 L593.8 218.5 L594.8 219.4 L595.8 220.0 L596.8 221.2 L597.8 220.9 L598.8 221.5 L599.9 221.1 L600.9 222.5 L601.9 222.3 L602.9 224.2 L603.9 224.8 L604.9 223.1 L605.9 224.8 L606.9 224.2 L608.0 226.3 L609.0 225.3 L610.0 227.4 L611.0 228.1 L612.0 229.1 L613.0 227.8 L614.0 227.1 L615.0 227.8 L616.0 225.8 L617.1 226.2 L618.1 226.0 L619.1 226.1 L620.1 224.6 L621.1 224.1 L622.1 223.8 L623.1 226.7 L624.1 225.9 L625.2 226.6 L626.2 226.1 L627.2 225.9 L628.2 227.3 L629.2 224.5 L630.2 225.7 L631.2 225.5 L632.2 225.4 L633.3 224.7 L634.3 224.5 L635.3 224.6 L636.3 226.6 L637.3 225.4 L638.3 225.2 L639.3 225.4 L640.4 226.0 L641.4 226.5 L642.4 225.7 L643.4 225.3 L644.4 225.6 L645.4 224.3 L646.4 224.9 L647.4 225.3 L648.5 221.5 L649.5 222.4 L650.5 223.9 L651.5 227.4 L652.5 229.5 L653.5 228.8 L654.5 228.8 L655.5 230.1 L656.6 229.5 L657.6 230.0 L658.6 229.2 L659.6 230.5 L660.6 230.5 L661.6 229.6 L662.6 229.1 L663.6 231.7 L664.7 229.2 L665.7 228.7 L666.7 227.3 L667.7 229.8 L668.7 229.9 L669.7 230.0 L670.7 229.0 L671.8 230.4 L672.8 230.2 L673.8 230.1 L674.8 231.1 L675.8 232.1 L676.8 232.1 L677.8 232.1 L678.8 233.3 L679.9 233.5 L680.9 233.2 L681.9 234.2 L682.9 234.4 L683.9 235.2 L684.9 235.6 L685.9 235.8 L686.9 234.9 L688.0 236.6 L689.0 236.9 L690.0 235.9 L691.0 237.4 L692.0 237.0 L693.0 236.2 L694.0 237.1 L695.0 236.4 L696.0 238.5 L697.1 237.2 L698.1 239.4 L699.1 237.8 L700.1 238.0 L701.1 239.2 L702.1 238.7 L703.1 236.9 L704.1 237.7 L705.2 236.4 L706.2 238.2 L707.2 237.2 L708.2 237.7 L709.2 237.7 L710.2 236.6 L711.2 237.8 L712.3 239.3 L713.3 237.4 L714.3 237.1 L715.3 237.9 L716.3 238.7 L717.3 237.1 L718.3 237.6 L719.4 237.8 L720.4 238.6 L721.4 237.4 L722.4 240.0 L723.4 240.5 L724.4 237.9 L725.4 237.9 L726.4 239.0 L727.5 238.6 L728.5 238.8 L729.5 239.4 L730.5 239.2 L731.5 239.3 L732.5 240.7 L733.5 241.0 L734.5 242.3 L735.5 243.7 L736.6 244.6 L737.6 244.6 L738.6 246.7 L739.6 245.7 L740.6 246.8 L741.6 247.7 L742.6 246.7 L743.6 246.9 L744.7 246.0 L745.7 245.7 L746.7 246.3 L747.7 246.7 L748.7 246.7 L749.7 247.0 L750.7 246.8 L751.8 246.4 L752.8 246.0 L753.8 246.3 L754.8 246.5 L755.8 246.5 L756.8 245.7 L757.8 247.4 L758.8 247.8 L759.9 247.2 L760.9 246.4 L761.9 247.6 L762.9 246.8 L763.9 246.6 L764.9 247.3 L765.9 246.6 L766.9 247.2 L768.0 246.9 L769.0 247.9 L770.0 248.2 L771.0 248.6 L772.0 248.6 L773.0 248.7 L774.0 248.9 L775.0 249.4 L776.1 248.3 L777.1 248.0 L778.1 249.0 L779.1 249.5 L780.1 249.9 L781.1 251.9 L782.1 252.1 L783.1 253.3 L784.2 253.2 L785.2 250.0 L786.2 247.6 L787.2 247.5 L788.2 245.1 L789.2 243.9 L790.2 245.1 L791.2 245.6 L792.3 244.5 L793.3 244.9 L794.3 243.5 L795.3 242.6 L796.3 241.6 L797.3 243.5 L798.3 241.7 L799.4 242.1 L800.4 242.3 L801.4 242.6 L802.4 240.4 L803.4 240.9 L804.4 240.4 L805.4 241.9 L806.4 240.7 L807.5 239.8 L808.5 240.8 L809.5 238.6 L810.5 237.5 L811.5 237.6 L812.5 237.5 L813.5 238.6 L814.5 237.9 L815.5 238.1 L816.6 239.7 L817.6 242.0 L818.6 242.7 L819.6 244.9 L820.6 245.2 L821.6 244.8 L822.6 245.5 L823.6 245.1 L824.7 245.0 L825.7 244.5 L826.7 244.5 L827.7 244.6 L828.7 245.6 L829.7 246.3 L830.7 246.1 L831.8 245.4 L832.8 244.9 L833.8 245.2 L834.8 244.6 L835.8 244.9 L836.8 244.8 L837.8 245.0 L838.8 243.2 L839.9 244.7 L840.9 245.3 L841.9 243.6 L842.9 245.1 L843.9 243.8 L844.9 242.5 L845.9 243.4 L846.9 241.3 L848.0 243.5 L849.0 241.0 L850.0 241.4 L851.0 241.7 L852.0 240.8 L853.0 239.9 L854.0 238.7 L855.0 238.6 L856.1 238.5 L857.1 238.9 L858.1 236.0 L859.1 237.4 L860.1 236.0 L861.1 236.1 L862.1 236.6 L863.1 236.4 L864.2 237.4 L865.2 235.9 L866.2 237.3 L867.2 236.5 L868.2 236.9 L869.2 237.3 L870.2 236.4 L871.2 237.8 L872.3 239.6 L873.3 237.8 L874.3 237.2 L875.3 239.1 L876.3 239.8 L877.3 237.0 L878.3 237.8 L879.4 237.1 L880.4 235.3 L881.4 232.8 L882.4 229.5 L883.4 228.9 L884.4 229.8 L885.4 227.9 L886.4 228.7 L887.5 229.9 L888.5 231.8 L889.5 231.8 L890.5 232.7 L891.5 232.8 L892.5 234.8 L893.5 237.2 L894.5 238.0 L895.5 239.8 L896.6 239.4 L897.6 240.7 L898.6 240.5 L899.6 240.4 L900.6 240.9 L901.6 242.9 L902.6 243.2 L903.6 243.1 L904.7 243.3 L905.7 243.7 L906.7 242.4 L907.7 243.0 L908.7 242.2 L909.7 240.9 L910.7 240.6 L911.8 239.5 L912.8 238.8 L913.8 238.8 L914.8 238.5 L915.8 238.2 L916.8 237.4 L917.8 237.0 L918.8 237.7 L919.9 236.7 L920.9 235.5 L921.9 238.7 L922.9 238.3 L923.9 238.3 L924.9 239.2 L925.9 239.4 L926.9 239.8 L928.0 239.6 L929.0 240.1 L930.0 241.0 L931.0 241.5 L932.0 242.5 L933.0 240.8 L934.0 245.5 L935.0 246.1 L936.1 245.5 L937.1 247.3 L938.1 246.4 L939.1 247.2 L940.1 246.6 L941.1 246.4 L942.1 248.3 L943.1 248.2 L944.2 247.0 L945.2 248.7 L946.2 249.4 L947.2 248.9 L948.2 249.7 L949.2 250.5 L950.2 250.8 L951.2 250.6 L952.3 250.9 L953.3 251.8 L954.3 251.1 L955.3 250.7 L956.3 250.8 L957.3 253.7 L958.3 251.2 L959.4 251.4 L960.4 250.1 L961.4 251.3 L962.4 251.6 L963.4 251.8 L964.4 252.7 L965.4 253.5 L966.4 252.8 L967.5 252.0 L968.5 252.1 L969.5 252.6 L970.5 252.2 L971.5 252.5 L972.5 253.0 L973.5 252.8 L974.5 254.1 L975.5 251.4 L976.6 252.1 L977.6 252.9 L978.6 251.3 L979.6 250.4 L980.6 253.0 L981.6 252.7 L982.6 252.2 L983.6 252.6 L984.7 250.8 L985.7 250.2 L986.7 252.1 L987.7 251.3 L988.7 249.7 L989.7 250.4 L990.7 251.8 L991.8 250.0 L992.8 249.1 L993.8 248.2 L994.8 249.0 L995.8 248.2 L996.8 246.7 L997.8 245.5 L998.8 244.5 L999.9 243.6 L1000.9 243.4 L1001.9 244.4 L1002.9 243.9 L1003.9 245.5 L1004.9 244.9 L1005.9 246.5 L1007.0 249.3 L1008.0 250.3 L1009.0 252.2 L1010.0 251.1 L1011.0 252.4 L1012.0 251.8 L1013.0 252.2 L1014.0 251.8 L1015.0 251.6 L1016.1 251.5 L1017.1 252.2 L1018.1 253.4 L1019.1 252.1 L1020.1 251.6 L1021.1 249.9 L1022.1 248.6 L1023.1 248.5 L1024.2 246.6 L1025.2 244.5 L1026.2 244.1 L1027.2 242.5 L1028.2 240.9 L1029.2 239.5 L1030.2 238.7 L1031.2 239.5 L1032.3 239.6 L1033.3 241.5 L1034.3 243.0 L1035.3 245.2 L1036.3 245.8 L1037.3 246.6 L1038.3 244.6 L1039.3 245.4 L1040.4 245.5 L1041.4 245.4 L1042.4 242.3 L1043.4 242.3 L1044.4 239.8 L1045.4 237.8 L1046.4 238.5 L1047.5 237.0 L1048.5 237.2 L1049.5 236.9 L1050.5 240.2 L1051.5 241.9 L1052.5 243.7 L1053.5 244.5 L1054.5 245.4 L1055.5 245.3 L1056.6 246.6 L1057.6 245.5 L1058.6 244.4 L1059.6 246.3 L1060.6 245.2 L1061.6 245.7 L1062.6 246.9 L1063.7 248.4 L1064.7 248.2 L1065.7 248.7 L1066.7 248.7 L1067.7 249.1 L1068.7 249.4 L1069.7 250.3 L1070.8 250.0 L1071.8 251.3 L1072.8 252.9 L1073.8 252.9 L1074.8 253.2 L1075.8 254.2 L1076.8 252.6 L1077.8 252.3 L1078.8 253.8 L1079.9 252.7 L1080.9 251.6 L1081.9 248.5 L1082.9 245.4 L1083.9 243.9 L1084.9 244.4 L1085.9 245.6 L1087.0 246.4 L1088.0 248.4 L1089.0 249.2 L1090.0 250.0 L1091.0 250.9 L1092.0 253.6 L1093.0 252.4 L1094.0 251.8 L1095.0 253.5 L1096.1 253.7 L1097.1 254.6 L1098.1 254.2 L1099.1 255.9 L1100.1 255.5 L1101.1 256.7 L1102.1 256.8 L1103.2 257.0 L1104.2 258.5 L1105.2 259.2 L1106.2 258.0 L1107.2 260.2 L1108.2 261.3 L1109.2 261.5 L1110.2 262.2 L1111.2 262.9 L1112.3 263.6 L1113.3 263.8 L1114.3 265.4 L1115.3 266.5 L1116.3 265.8 L1117.3 266.8 L1118.3 266.8 L1119.3 267.3 L1120.4 268.8 L1121.4 268.8 L1122.4 269.2 L1123.4 269.2 L1124.4 271.5 L1125.4 271.5 L1126.4 271.3 L1127.5 270.8 L1128.5 271.7 L1129.5 271.4 L1130.5 270.5 L1131.5 269.8 L1132.5 268.8 L1133.5 270.3 L1134.5 270.8 L1135.6 271.2 L1136.6 269.7 L1137.6 269.9 L1138.6 268.0 L1139.6 269.5 L1140.6 268.9 L1141.6 268.8 L1142.7 268.9 L1143.7 268.9 L1144.7 269.3 L1145.7 270.2 L1146.7 269.7 L1147.7 269.8 L1148.7 270.1 L1149.7 271.9 L1150.8 271.5 L1151.8 270.4 L1152.8 271.3 L1153.8 272.3 L1154.8 271.4 L1155.8 271.9 L1156.8 272.4 L1157.8 270.9 L1158.8 271.8 L1159.9 271.9 L1160.9 272.7 L1161.9 273.4 L1162.9 272.4 L1163.9 271.6 L1164.9 272.2 L1165.9 272.9 L1167.0 272.7 L1168.0 273.4 L1169.0 272.7 L1170.0 273.9 L1171.0 274.4 L1172.0 275.6 L1173.0 274.5 L1174.0 275.2 L1175.0 274.2 L1176.1 274.1 L1177.1 274.2 L1178.1 274.8 L1179.1 274.2 L1180.1 273.8 L1181.1 276.7 L1182.1 275.7 L1183.2 275.8 L1184.2 276.1 L1185.2 275.8 L1186.2 276.0 L1187.2 277.1 L1188.2 276.9 L1189.2 277.6 L1190.2 276.2 L1191.2 277.2 L1192.3 276.6 L1193.3 276.3 L1194.3 277.7 L1195.3 277.7 L1196.3 278.1 L1197.3 278.1 L1198.3 276.4 L1199.4 277.7 L1200.4 279.0 L1201.4 278.1 L1202.4 278.5 L1203.4 278.9 L1204.4 279.3 L1205.4 276.5 L1206.4 277.3 L1207.5 277.6 L1208.5 277.7 L1209.5 278.7 L1210.5 277.3 L1211.5 276.2 L1212.5 277.8 L1213.5 277.9 L1214.5 278.8 L1215.6 279.1 L1216.6 278.7 L1217.6 279.3 L1218.6 277.6 L1219.6 278.1 L1220.6 277.4 L1221.6 279.5 L1222.7 278.7 L1223.7 279.4 L1224.7 279.3 L1225.7 279.5 L1226.7 279.9 L1227.7 280.1 L1228.7 280.0 L1229.7 279.6 L1230.8 280.0 L1231.8 278.4 L1232.8 278.7 L1233.8 280.5 L1234.8 280.4 L1235.8 279.1 L1236.8 278.9 L1237.8 279.0 L1238.8 279.7 L1239.9 280.8 L1240.9 280.5 L1241.9 281.1 L1242.9 279.9 L1243.9 280.5 L1244.9 280.9 L1245.9 281.2 L1247.0 281.6 L1248.0 281.4 L1249.0 281.9 L1250.0 282.3 L1251.0 282.0 L1252.0 280.9 L1253.0 281.0 L1254.0 281.0 L1255.0 282.7 L1256.1 282.7 L1257.1 282.3 L1258.1 281.8 L1259.1 281.8 L1260.1 283.2 L1261.1 282.6 L1262.1 282.2 L1263.2 282.1 L1264.2 283.1 L1265.2 281.7 L1266.2 282.3 L1267.2 283.3 L1268.2 283.8 L1269.2 283.8 L1270.2 283.2 L1271.3 283.9 L1272.3 284.7 L1273.3 283.3 L1274.3 283.0 L1275.3 283.3 L1276.3 283.8 L1277.3 283.5 L1278.3 283.4 L1279.4 282.4 L1280.4 284.3 L1281.4 283.6 L1282.4 284.1 L1283.4 284.0 L1284.4 284.7 L1285.4 283.6 L1286.5 283.3 L1287.5 283.9 L1288.5 284.0 L1289.5 283.6 L1290.5 284.1 L1291.5 283.5 L1292.5 283.4 L1293.5 282.8 L1294.5 283.3 L1295.6 284.0 L1296.6 283.4 L1297.6 283.3 L1298.6 283.9 L1299.6 283.0 L1300.6 282.6 L1301.6 283.1 L1302.7 284.4 L1303.7 283.5 L1304.7 283.6 L1305.7 284.1 L1306.7 283.8 L1307.7 283.9 L1308.7 285.1 L1309.7 283.6 L1310.8 284.8 L1311.8 285.5 L1312.8 286.0 L1313.8 285.6 L1314.8 285.8 L1315.8 285.3 L1316.8 284.5 L1317.8 285.7 L1318.8 286.1 L1319.9 286.5 L1320.9 287.3 L1321.9 288.4 L1322.9 287.4 L1323.9 288.0 L1324.9 287.2 L1325.9 287.1 L1327.0 286.3 L1328.0 287.0 L1329.0 286.7 L1330.0 287.2 L1331.0 286.3 L1332.0 287.8 L1333.0 286.5 L1334.0 287.5 L1335.0 286.2 L1336.1 287.2 L1337.1 287.8 L1338.1 288.3 L1339.1 289.0 L1340.1 287.4 L1341.1 287.8 L1342.1 287.9 L1343.2 288.1 L1344.2 288.9 L1345.2 287.9 L1346.2 287.4 L1347.2 287.5 L1348.2 288.6 L1349.2 287.7 L1350.2 286.9 L1351.3 287.5 L1352.3 288.7 L1353.3 289.3 L1354.3 288.0 L1355.3 287.7 L1356.3 288.5 L1357.3 288.9 L1358.3 288.3 L1359.4 288.2 L1360.4 288.7 L1361.4 287.3 L1362.4 288.9 L1363.4 287.6 L1364.4 286.8 L1365.4 288.6 L1366.5 288.3 L1367.5 288.7 L1368.5 287.3 L1369.5 288.1 L1370.5 288.3 L1371.5 288.3 L1372.5 288.3 L1373.5 288.1 L1374.5 288.1 L1375.6 287.4 L1376.6 289.2 L1377.6 288.2 L1378.6 287.6 L1379.6 288.7 L1380.6 288.8 L1381.6 288.7 L1382.7 291.4 L1383.7 290.5 L1384.7 289.0 L1385.7 289.7 L1386.7 290.1 L1387.7 290.6 L1388.7 291.4 L1389.7 291.7 L1390.8 292.8 L1391.8 291.9 L1392.8 291.9 L1393.8 293.0 L1394.8 293.3 L1395.8 292.5 L1396.8 292.1 L1397.8 293.1 L1398.8 293.1 L1399.9 293.4 L1400.9 293.5 L1401.9 293.2 L1402.9 292.9 L1403.9 292.9 L1404.9 292.8 L1405.9 292.0 L1407.0 292.9 L1408.0 293.4 L1409.0 293.4 L1410.0 292.6 L1411.0 292.7 L1412.0 293.7 L1413.0 293.9 L1414.0 292.8 L1415.1 292.2 L1416.1 293.1 L1417.1 292.4 L1418.1 294.4 L1419.1 293.6 L1420.1 294.0 L1421.1 292.5 L1422.1 293.5 L1423.2 293.8 L1424.2 292.9 L1425.2 294.8 L1426.2 294.2 L1427.2 294.4 L1428.2 294.0 L1429.2 294.2 L1430.2 294.5 L1431.3 294.4 L1432.3 294.4 L1433.3 293.1 L1434.3 293.8 L1435.3 293.2 L1436.3 294.0 L1437.3 293.6 L1438.3 292.8 L1439.4 294.8 L1440.4 294.1 L1441.4 293.8 L1442.4 294.0 L1443.4 293.9 L1444.4 294.4 L1445.4 295.2 L1446.5 294.1 L1447.5 294.5 L1448.5 294.6 L1449.5 293.6 L1450.5 294.8 L1451.5 295.3 L1452.5 294.9 L1453.5 294.9 L1454.5 294.6 L1455.6 295.9 L1456.6 295.3 L1457.6 295.8 L1458.6 295.1 L1459.6 295.8 L1460.6 295.2 L1461.6 295.7 L1462.7 296.9 L1463.7 296.0 L1464.7 295.9 L1465.7 296.1 L1466.7 296.4 L1467.7 296.0 L1468.7 296.8 L1469.7 296.6 L1470.8 297.4 L1471.8 297.4 L1472.8 297.4 L1473.8 297.4 L1474.8 297.6 L1475.8 296.2 L1476.8 298.4 L1477.8 296.5 L1478.9 298.1 L1479.9 297.2 L1480.9 296.1 L1481.9 296.4 L1482.9 296.1 L1483.9 297.5 L1484.9 297.5 L1485.9 299.5 L1487.0 298.4 L1488.0 297.6 L1489.0 298.7 L1490.0 300.0 L1491.0 298.0 L1492.0 297.4 L1493.0 297.8 L1494.0 297.2 L1495.1 297.3 L1496.1 298.9 L1497.1 298.9 L1498.1 299.0 L1499.1 298.4 L1500.1 298.9 L1501.1 297.2 L1502.2 298.8 L1503.2 297.4 L1504.2 297.3 L1505.2 298.2 L1506.2 297.4 L1507.2 298.1 L1508.2 298.4 L1509.2 298.9 L1510.2 298.3 L1511.3 298.3 L1512.3 298.1 L1513.3 298.2 L1514.3 298.1 L1515.3 298.2 L1516.3 298.7 L1517.3 299.2 L1518.3 298.8 L1519.4 296.7 L1520.4 298.2 L1521.4 297.3 L1522.4 297.6 L1523.4 298.7 L1524.4 297.1 L1525.4 297.8 L1526.5 298.6 L1527.5 298.7 L1528.5 298.4 L1529.5 297.8 L1530.5 299.8 L1531.5 298.2 L1532.5 298.3 L1533.5 299.2 L1534.5 299.1 L1535.6 299.5 L1536.6 300.0 L1537.6 298.6 L1538.6 299.3 L1539.6 298.7 L1540.6 299.1 L1541.6 299.0 L1542.7 298.6 L1543.7 299.0 L1544.7 298.5 L1545.7 300.8 L1546.7 301.2 L1547.7 299.7 L1548.7 298.3 L1549.7 297.2 L1550.8 297.5 L1551.8 299.5 L1552.8 298.4 L1553.8 298.7 L1554.8 298.7 L1555.8 298.8 L1556.8 299.0 L1557.8 299.2 L1558.9 300.7 L1559.9 300.4 L1560.9 301.6 L1561.9 300.9 L1562.9 300.8 L1563.9 302.1 L1564.9 300.8 L1566.0 301.9 L1567.0 300.8 L1568.0 302.0 L1569.0 301.8 L1570.0 302.0 L1571.0 301.5 L1572.0 303.4 L1573.0 302.7 L1574.0 301.7 L1575.1 303.3 L1576.1 301.9 L1577.1 302.6 L1578.1 302.9 L1579.1 302.6 L1580.1 302.9 L1581.1 302.4 L1582.2 302.9 L1583.2 302.3 L1584.2 302.3 L1585.2 302.4 L1586.2 303.0 L1587.2 302.8 L1588.2 304.0 L1589.2 302.9 L1590.2 304.7 L1591.3 303.7 L1592.3 303.5 L1593.3 303.4 L1594.3 304.2 L1595.3 303.5 L1596.3 304.2 L1597.3 303.8 L1598.3 302.9 L1599.4 303.7 L1600.4 305.2 L1601.4 303.8 L1602.4 304.7 L1603.4 303.7 L1604.4 305.0 L1605.4 303.9 L1606.5 304.0 L1607.5 304.6 L1608.5 304.9 L1609.5 304.7 L1610.5 306.0 L1611.5 305.8 L1612.5 304.9 L1613.5 305.4 L1614.5 305.4 L1615.6 305.6 L1616.6 305.3 L1617.6 305.2 L1618.6 305.6 L1619.6 305.1 L1620.6 305.7 L1621.6 307.6 L1622.7 306.3 L1623.7 305.1 L1624.7 306.1 L1625.7 306.2 L1626.7 306.0 L1627.7 306.7 L1628.7 306.8 L1629.7 307.7 L1630.8 308.4 L1631.8 306.8 L1632.8 307.4 L1633.8 306.8 L1634.8 307.0 L1635.8 307.8 L1636.8 308.5 L1637.8 308.0 L1638.9 309.3 L1639.9 307.5 L1640.9 308.1 L1641.9 308.4 L1642.9 307.8 L1643.9 308.2 L1644.9 307.3 L1646.0 307.4 L1647.0 308.2 L1648.0 307.8 L1649.0 308.5 L1650.0 308.8 L1651.0 309.4 L1652.0 309.1 L1653.0 308.5 L1654.0 308.2 L1655.1 308.9 L1656.1 308.4 L1657.1 310.1 L1658.1 309.1 L1659.1 308.7 L1660.1 308.3 L1661.1 308.8 L1662.2 308.8 L1663.2 309.2 L1664.2 308.7 L1665.2 308.8 L1666.2 309.0 L1667.2 309.0 L1668.2 308.7 L1669.2 309.2 L1670.2 309.4 L1671.3 309.4 L1672.3 309.8 L1673.3 309.1 L1674.3 309.6 L1675.3 310.2 L1676.3 310.1 L1677.3 310.0 L1678.3 309.6 L1679.4 309.8 L1680.4 309.3 L1681.4 311.4 L1682.4 310.9 L1683.4 310.9 L1684.4 311.2 L1685.4 310.8 L1686.5 310.8 L1687.5 310.8 L1688.5 310.0 L1689.5 309.0 L1690.5 310.4 L1691.5 310.9 L1692.5 310.7 L1693.5 310.1 L1694.6 310.3 L1695.6 310.5 L1696.6 310.6 L1697.6 310.1 L1698.6 310.3 L1699.6 308.6 L1700.6 309.7 L1701.6 309.8 L1702.7 308.6 L1703.7 308.9 L1704.7 309.3 L1705.7 309.9 L1706.7 309.8 L1707.7 310.1 L1708.7 309.4 L1709.8 309.3 L1710.8 309.6 L1711.8 309.0 L1712.8 308.7 L1713.8 309.6 L1714.8 309.4 L1715.8 309.5 L1716.8 310.3 L1717.8 308.3 L1718.9 309.2 L1719.9 310.1 L1720.9 309.7 L1721.9 310.7 L1722.9 309.3 L1723.9 309.6 L1724.9 309.5 L1726.0 309.6 L1727.0 309.2 L1728.0 309.8 L1729.0 309.5 L1730.0 309.4 L1731.0 310.4 L1732.0 310.3 L1733.0 309.5 L1734.0 310.1 L1735.1 310.6 L1736.1 311.0 L1737.1 310.6 L1738.1 311.3 L1739.1 310.6 L1740.1 310.2 L1741.1 310.1 L1742.2 310.6 L1743.2 309.2 L1744.2 311.3 L1745.2 311.4 L1746.2 310.6 L1747.2 310.6 L1748.2 311.2 L1749.2 312.0 L1750.2 310.4 L1751.3 311.5 L1752.3 311.4 L1753.3 310.8 L1754.3 311.4 L1755.3 310.7 L1756.3 310.2 L1757.3 309.9 L1758.3 312.2 L1759.4 311.3 L1760.4 311.1 L1761.4 311.3 L1762.4 311.2 L1763.4 310.8 L1764.4 311.9 L1765.4 311.8 L1766.5 312.0 L1767.5 311.0 L1768.5 312.4 L1769.5 312.2 L1770.5 312.6 L1771.5 311.9 L1772.5 311.7 L1773.5 311.2 L1774.6 312.7 L1775.6 312.5 L1776.6 311.6 L1777.6 312.0 L1778.6 312.2 L1779.6 312.4 L1780.6 312.9 L1781.7 313.1 L1782.7 312.9 L1783.7 311.9 L1784.7 311.8 L1785.7 311.8 L1786.7 311.9 L1787.7 312.7 L1788.7 312.3 L1789.8 312.4 L1790.8 313.0 L1791.8 312.5 L1792.8 313.8 L1793.8 311.8 L1794.8 312.9 L1795.8 312.3 L1796.8 312.8 L1797.8 312.8 L1798.9 312.9 L1799.9 312.5 L1800.9 313.1 L1801.9 312.7 L1802.9 313.3 L1803.9 313.0 L1804.9 312.7" fill="none" stroke="#0000ff" stroke-width="4.2" stroke-linejoin="round" stroke-linecap="butt"/>
<path d="M104.7 130.3 L104.7 376.3 L1888 376.3" fill="none" stroke="#000" stroke-width="4.45" stroke-linecap="butt" stroke-linejoin="miter"/>
<line x1="184.65" y1="376.3" x2="184.65" y2="390.5" stroke="#000" stroke-width="4.45"/>
<text transform="translate(184.65 445.60) scale(1 1.028)" font-size="60" text-anchor="middle">0</text>
<line x1="690.99" y1="376.3" x2="690.99" y2="390.5" stroke="#000" stroke-width="4.45"/>
<text transform="translate(690.99 445.60) scale(1 1.028)" font-size="60" text-anchor="middle">500</text>
<line x1="1197.33" y1="376.3" x2="1197.33" y2="390.5" stroke="#000" stroke-width="4.45"/>
<text transform="translate(1197.33 445.60) scale(1 1.028)" font-size="60" text-anchor="middle">1000</text>
<line x1="1703.67" y1="376.3" x2="1703.67" y2="390.5" stroke="#000" stroke-width="4.45"/>
<text transform="translate(1703.67 445.60) scale(1 1.028)" font-size="60" text-anchor="middle">1500</text>
<text transform="translate(995.5 548.30) scale(1 1.015)" font-size="80" text-anchor="middle">Frequency</text>
<text transform="translate(58.0 254.80) rotate(-90) scale(1 1.015)" font-size="80" text-anchor="middle">Intensity</text>
<text x="103.5" y="87.30000000000001" font-size="160">a</text>
<path d="M185.7 988.8 L188.9 987.6 L192.1 980.1 L195.4 977.6 L198.6 965.1 L201.9 986.3 L205.1 977.6 L208.3 960.7 L211.6 963.8 L214.8 980.1 L218.1 985.1 L221.3 986.3 L224.5 979.5 L227.8 978.8 L231.0 986.3 L234.2 990.7 L237.5 992.6 L240.7 979.5 L244.0 993.2 L247.2 990.1 L250.4 998.2 L253.7 980.1 L256.9 993.2 L260.2 980.1 L263.4 960.1 L266.6 966.3 L269.9 1003.8 L273.1 1003.2 L276.3 987.6 L279.6 986.3 L282.8 981.3 L286.1 977.6 L289.3 985.1 L292.5 992.0 L295.8 987.6 L299.0 992.6 L302.3 976.3 L305.5 982.6 L308.7 1003.8 L312.0 986.3 L315.2 986.3 L318.4 1013.8 L321.7 1000.1 L324.9 986.3 L328.2 990.1 L331.4 976.3 L334.6 987.6 L337.9 983.8 L341.1 990.1 L344.4 987.6 L347.6 986.3 L350.8 986.3 L354.1 990.1 L357.3 986.3 L360.5 985.1 L363.8 982.0 L367.0 985.1 L370.3 1005.1 L373.5 995.1 L376.7 971.3 L380.0 974.5 L383.2 992.6 L386.5 979.5 L389.7 998.8 L392.9 1001.3 L396.2 992.6 L399.4 993.2 L402.6 990.7 L405.9 988.8 L409.1 983.8 L412.4 986.3 L415.6 980.1 L418.8 989.5 L422.1 980.7 L425.3 986.3 L428.6 985.7 L431.8 957.0 L435.0 1002.6 L438.3 980.7 L441.5 992.6 L444.8 986.3 L448.0 977.6 L451.2 982.6 L454.5 985.1 L457.7 974.5 L460.9 993.8 L464.2 990.1 L467.4 973.8 L470.7 988.8 L473.9 1001.3 L477.1 993.8 L480.4 1015.7 L483.6 990.1 L486.9 989.5 L490.1 987.6 L493.3 974.5 L496.6 1002.0 L499.8 987.6 L503.0 983.2 L506.3 970.1 L509.5 988.8 L512.8 986.3 L516.0 987.0 L519.2 990.1 L522.5 1008.8 L525.7 1001.3 L529.0 987.6 L532.2 995.1 L535.4 986.3 L538.7 1006.3 L541.9 1002.6 L545.1 985.1 L548.4 993.8 L551.6 986.3 L554.9 985.1 L558.1 986.3 L561.3 1002.6 L564.6 993.8 L567.8 1003.8 L571.1 988.8 L574.3 987.6 L577.5 996.3 L580.8 990.1 L584.0 987.6 L587.2 987.6 L590.5 988.2 L593.7 982.6 L597.0 995.1 L600.2 1011.3 L603.4 993.8 L606.7 1000.1 L609.9 982.6 L613.2 970.1 L616.4 985.1 L619.6 982.6 L622.9 970.2 L626.1 1004.6 L629.3 984.6 L632.6 985.8 L635.8 992.7 L639.1 979.0 L642.3 999.6 L645.5 988.3 L648.8 989.6 L652.0 954.0 L655.3 974.6 L658.5 962.1 L661.7 950.2 L665.0 952.7 L668.2 968.3 L671.4 943.3 L674.7 958.3 L677.9 1015.8 L681.2 1007.1 L684.4 964.6 L687.6 1017.1 L690.9 1009.6 L694.1 964.0 L697.4 1014.0 L700.6 994.6 L703.8 1014.6 L707.1 970.8 L710.3 954.6 L713.5 949.6 L716.8 950.8 L720.0 940.2 L723.3 964.6 L726.5 973.3 L729.7 984.6 L733.0 988.3 L736.2 1002.1 L739.5 990.2 L742.7 1008.3 L745.9 987.1 L749.2 978.3 L752.4 1001.5 L755.6 987.1 L758.9 957.1 L762.1 947.1 L765.4 961.5 L768.6 952.7 L771.8 972.1 L775.1 978.3 L778.3 984.6 L781.6 983.3 L784.8 988.3 L788.0 996.5 L791.3 987.7 L794.5 987.1 L797.7 987.1 L801.0 989.6 L804.2 979.6 L807.5 970.2 L810.7 965.2 L813.9 946.5 L817.2 954.6 L820.4 950.8 L823.7 932.1 L826.9 910.8 L830.1 898.3 L833.4 864.6 L836.6 840.6 L839.8 835.5 L843.1 844.2 L846.3 853.3 L849.6 862.1 L852.8 899.6 L856.0 908.3 L859.3 949.0 L862.5 949.6 L865.8 963.3 L869.0 989.6 L872.2 989.6 L875.5 972.7 L878.7 970.2 L881.9 975.8 L885.2 984.6 L888.4 988.3 L891.7 994.6 L894.9 1005.8 L898.1 1007.7 L901.4 987.1 L904.6 997.1 L907.9 989.6 L911.1 1006.5 L914.3 990.8 L917.6 990.8 L920.8 972.3 L924.0 1008.3 L927.3 1009.6 L930.5 995.8 L933.8 988.3 L937.0 973.3 L940.2 977.1 L943.5 949.6 L946.7 924.0 L950.0 952.1 L953.2 919.6 L956.4 930.8 L959.7 917.1 L962.9 898.3 L966.1 879.0 L969.4 895.8 L972.6 870.8 L975.9 867.1 L979.1 885.8 L982.3 918.3 L985.6 939.6 L988.8 954.0 L992.1 975.2 L995.3 977.7 L998.5 939.0 L1001.8 941.5 L1005.0 942.7 L1008.2 967.7 L1011.5 965.2 L1014.7 987.1 L1018.0 971.5 L1021.2 975.8 L1024.4 980.8 L1027.7 985.8 L1030.9 979.6 L1034.2 987.1 L1037.4 988.3 L1040.6 1004.6 L1043.9 994.6 L1047.1 989.6 L1050.3 1000.8 L1053.6 983.6 L1056.8 1007.1 L1060.1 992.1 L1063.3 1000.8 L1066.5 989.6 L1069.8 988.3 L1073.0 989.6 L1076.3 982.1 L1079.5 980.2 L1082.7 986.5 L1086.0 997.1 L1089.2 993.3 L1092.5 1007.7 L1095.7 997.1 L1098.9 985.8 L1102.2 987.1 L1105.4 1000.2 L1108.6 1001.5 L1111.9 999.0 L1115.1 1014.0 L1118.4 1015.2 L1121.6 1007.1 L1124.8 997.1 L1128.1 995.8 L1131.3 1010.8 L1134.6 990.8 L1137.8 999.0 L1141.0 989.6 L1144.3 989.6 L1147.5 999.6 L1150.7 1009.6 L1154.0 987.1 L1157.2 979.6 L1160.5 985.8 L1163.7 986.5 L1166.9 988.3 L1170.2 987.7 L1173.4 979.6 L1176.7 981.5 L1179.9 985.2 L1183.1 990.2 L1186.4 984.0 L1189.6 985.2 L1192.8 971.5 L1196.1 980.8 L1199.3 974.6 L1202.6 953.3 L1205.8 909.6 L1209.0 887.1 L1212.3 880.2 L1215.5 857.7 L1218.8 877.7 L1222.0 918.3 L1225.2 942.1 L1228.5 958.3 L1231.7 974.6 L1234.9 990.8 L1238.2 999.6 L1241.4 992.1 L1244.7 996.5 L1247.9 992.1 L1251.1 989.0 L1254.4 1001.5 L1257.6 999.6 L1260.9 997.7 L1264.1 1009.0 L1267.3 1003.3 L1270.6 1003.3 L1273.8 984.0 L1277.0 981.5 L1280.3 958.3 L1283.5 944.6 L1286.8 935.8 L1290.0 930.2 L1293.2 918.3 L1296.5 893.3 L1299.7 869.0 L1303.0 874.6 L1306.2 901.5 L1309.4 904.0 L1312.7 949.6 L1315.9 982.1 L1319.1 985.8 L1322.4 988.3 L1325.6 985.2 L1328.9 987.7 L1332.1 993.3 L1335.3 993.3 L1338.6 995.8 L1341.8 997.1 L1345.1 988.3 L1348.3 975.8 L1351.5 930.8 L1354.8 892.1 L1358.0 878.3 L1361.2 876.5 L1364.5 903.3 L1367.7 931.5 L1371.0 934.6 L1374.2 944.6 L1377.4 949.6 L1380.7 959.6 L1383.9 987.1 L1387.2 964.0 L1390.4 974.6 L1393.6 970.8 L1396.9 967.7 L1400.1 958.3 L1403.3 948.3 L1406.6 949.6 L1409.8 963.3 L1413.1 983.3 L1416.3 986.5 L1419.5 984.0 L1422.8 1000.2 L1426.0 987.1 L1429.3 997.1 L1432.5 985.8 L1435.7 989.6 L1439.0 994.0 L1442.2 1026.5 L1445.4 1021.5 L1448.7 998.3 L1451.9 1017.7 L1455.2 1000.8 L1458.4 989.6 L1461.6 987.1 L1464.9 998.3 L1468.1 973.3 L1471.4 930.2 L1474.6 934.0 L1477.8 915.2 L1481.1 917.1 L1484.3 897.1 L1487.5 921.5 L1490.8 933.3 L1494.0 944.6 L1497.3 954.6 L1500.5 965.1 L1503.7 959.5 L1507.0 963.2 L1510.2 971.3 L1513.5 956.3 L1516.7 953.8 L1519.9 952.6 L1523.2 950.1 L1526.4 918.2 L1529.6 948.8 L1532.9 928.8 L1536.1 910.7 L1539.4 956.3 L1542.6 997.6 L1545.8 988.2 L1549.1 1008.2 L1552.3 990.1 L1555.6 990.1 L1558.8 993.8 L1562.0 1002.6 L1565.3 987.6 L1568.5 991.3 L1571.7 1005.1 L1575.0 1001.3 L1578.2 993.2 L1581.5 988.2 L1584.7 988.2 L1587.9 988.8 L1591.2 990.1 L1594.4 978.8 L1597.7 985.1 L1600.9 988.8 L1604.1 978.2 L1607.4 980.1 L1610.6 990.1 L1613.8 1005.1 L1617.1 985.1 L1620.3 1018.8 L1623.6 996.3 L1626.8 979.5 L1630.0 987.6 L1633.3 995.1 L1636.5 993.2 L1639.8 997.6 L1643.0 1002.6 L1646.2 977.0 L1649.5 983.8 L1652.7 990.1 L1655.9 980.1 L1659.2 1003.8 L1662.4 962.6 L1665.7 1006.3 L1668.9 1007.6 L1672.1 982.0 L1675.4 978.8 L1678.6 965.7 L1681.9 968.8 L1685.1 1005.1 L1688.3 1006.3 L1691.6 1006.3 L1694.8 997.6 L1698.0 986.3 L1701.3 990.1 L1704.5 985.1 L1707.8 1002.6 L1711.0 1002.0 L1714.2 963.2 L1717.5 980.1 L1720.7 1000.1 L1724.0 990.1 L1727.2 982.6 L1730.4 985.1 L1733.7 983.2 L1736.9 985.1 L1740.2 998.2 L1743.4 965.1 L1746.6 972.0 L1749.9 1005.1 L1753.1 990.1 L1756.3 986.3 L1759.6 978.8 L1762.8 1000.7 L1766.1 973.8 L1769.3 982.6 L1772.5 987.0 L1775.8 988.8 L1779.0 982.6 L1782.3 970.1 L1785.5 997.6 L1788.7 983.8 L1792.0 987.6 L1795.2 975.1 L1798.4 987.6 L1801.7 988.2 L1804.9 990.7" fill="none" stroke="#ff0000" stroke-width="4.2" stroke-linejoin="round" stroke-linecap="butt"/>
<path d="M185.7 951.3 L188.9 988.2 L192.1 992.0 L195.4 957.0 L198.6 982.0 L201.9 980.1 L205.1 985.7 L208.3 988.8 L211.6 998.2 L214.8 980.1 L218.1 957.6 L221.3 990.7 L224.5 965.1 L227.8 967.0 L231.0 972.0 L234.2 949.5 L237.5 990.7 L240.7 977.6 L244.0 988.2 L247.2 988.2 L250.4 953.2 L253.7 972.6 L256.9 988.8 L260.2 985.1 L263.4 945.1 L266.6 992.0 L269.9 977.6 L273.1 1020.7 L276.3 980.1 L279.6 958.8 L282.8 942.6 L286.1 988.2 L289.3 978.8 L292.5 999.5 L295.8 1006.3 L299.0 973.2 L302.3 980.1 L305.5 993.2 L308.7 978.2 L312.0 970.7 L315.2 988.8 L318.4 980.1 L321.7 992.0 L324.9 993.2 L328.2 1012.0 L331.4 985.1 L334.6 983.2 L337.9 957.0 L341.1 955.1 L344.4 1023.8 L347.6 974.8 L350.8 986.3 L354.1 1001.3 L357.3 1015.1 L360.5 987.0 L363.8 987.6 L367.0 989.5 L370.3 985.7 L373.5 990.7 L376.7 988.2 L380.0 985.7 L383.2 989.5 L386.5 993.2 L389.7 986.1 L392.9 993.2 L396.2 989.8 L399.4 989.6 L402.6 988.8 L405.9 1001.3 L409.1 1013.8 L412.4 1001.3 L415.6 994.5 L418.8 999.5 L422.1 995.1 L425.3 990.7 L428.6 992.6 L431.8 1035.7 L435.0 983.2 L438.3 990.7 L441.5 1002.6 L444.8 993.8 L448.0 1010.1 L451.2 971.3 L454.5 996.3 L457.7 988.2 L460.9 1006.3 L464.2 985.7 L467.4 996.3 L470.7 980.1 L473.9 980.1 L477.1 986.3 L480.4 991.3 L483.6 1003.8 L486.9 1005.1 L490.1 988.8 L493.3 933.8 L496.6 920.1 L499.8 892.6 L503.0 935.7 L506.3 922.0 L509.5 923.8 L512.8 981.3 L516.0 1012.6 L519.2 1003.8 L522.5 977.0 L525.7 972.0 L529.0 1004.5 L532.2 1000.1 L535.4 987.0 L538.7 1000.7 L541.9 1010.1 L545.1 1010.7 L548.4 959.5 L551.6 1013.2 L554.9 1005.1 L558.1 1021.3 L561.3 1025.7 L564.6 962.6 L567.8 943.8 L571.1 980.1 L574.3 984.5 L577.5 950.7 L580.8 976.3 L584.0 977.0 L587.2 976.3 L590.5 1001.3 L593.7 1022.0 L597.0 1002.6 L600.2 956.3 L603.4 986.3 L606.7 995.1 L609.9 998.8 L613.2 985.7 L616.4 1005.1 L619.6 989.5 L622.9 1023.3 L626.1 986.5 L629.3 984.0 L632.6 1019.0 L635.8 1020.2 L639.1 990.8 L642.3 1004.6 L645.5 1017.7 L648.8 988.3 L652.0 1017.1 L655.3 1019.6 L658.5 997.1 L661.7 1023.3 L665.0 1018.3 L668.2 994.6 L671.4 977.1 L674.7 989.0 L677.9 979.0 L681.2 987.1 L684.4 964.6 L687.6 995.8 L690.9 965.8 L694.1 1000.2 L697.4 978.3 L700.6 988.3 L703.8 985.8 L707.1 998.3 L710.3 982.7 L713.5 986.5 L716.8 950.8 L720.0 989.0 L723.3 970.8 L726.5 947.1 L729.7 932.7 L733.0 967.7 L736.2 944.6 L739.5 964.0 L742.7 975.8 L745.9 970.8 L749.2 947.1 L752.4 987.1 L755.6 982.7 L758.9 977.7 L762.1 983.3 L765.4 974.6 L768.6 993.3 L771.8 988.3 L775.1 982.1 L778.3 990.8 L781.6 979.6 L784.8 968.3 L788.0 965.2 L791.3 965.2 L794.5 915.8 L797.7 867.1 L801.0 849.6 L804.2 832.1 L807.5 822.7 L810.7 817.5 L813.9 843.3 L817.2 859.6 L820.4 904.0 L823.7 914.0 L826.9 955.2 L830.1 933.3 L833.4 959.0 L836.6 974.6 L839.8 982.1 L843.1 997.7 L846.3 985.8 L849.6 957.7 L852.8 995.2 L856.0 979.0 L859.3 988.3 L862.5 981.5 L865.8 983.3 L869.0 984.6 L872.2 985.8 L875.5 992.7 L878.7 975.8 L881.9 989.6 L885.2 999.6 L888.4 997.1 L891.7 994.0 L894.9 987.1 L898.1 987.1 L901.4 980.2 L904.6 988.3 L907.9 995.8 L911.1 994.6 L914.3 997.1 L917.6 985.8 L920.8 963.3 L924.0 987.1 L927.3 973.3 L930.5 969.0 L933.8 958.3 L937.0 967.7 L940.2 932.1 L943.5 918.3 L946.7 956.5 L950.0 954.6 L953.2 960.2 L956.4 988.3 L959.7 978.3 L962.9 985.2 L966.1 990.8 L969.4 990.8 L972.6 994.0 L975.9 1012.7 L979.1 999.6 L982.3 987.7 L985.6 991.5 L988.8 988.3 L992.1 988.3 L995.3 1000.8 L998.5 979.0 L1001.8 994.6 L1005.0 1014.0 L1008.2 987.7 L1011.5 999.6 L1014.7 982.7 L1018.0 1004.6 L1021.2 1002.7 L1024.4 992.7 L1027.7 987.1 L1030.9 1000.2 L1034.2 999.0 L1037.4 1007.1 L1040.6 998.3 L1043.9 987.1 L1047.1 961.5 L1050.3 1000.8 L1053.6 963.3 L1056.8 1008.3 L1060.1 1022.1 L1063.3 985.2 L1066.5 987.1 L1069.8 1005.2 L1073.0 992.1 L1076.3 995.2 L1079.5 1039.6 L1082.7 997.1 L1086.0 987.1 L1089.2 1007.1 L1092.5 985.2 L1095.7 992.7 L1098.9 1004.6 L1102.2 979.6 L1105.4 982.7 L1108.6 997.1 L1111.9 959.0 L1115.1 995.8 L1118.4 980.2 L1121.6 1007.7 L1124.8 977.1 L1128.1 987.7 L1131.3 990.8 L1134.6 994.6 L1137.8 993.3 L1141.0 965.8 L1144.3 957.1 L1147.5 997.7 L1150.7 975.8 L1154.0 984.0 L1157.2 992.7 L1160.5 969.6 L1163.7 981.5 L1166.9 982.1 L1170.2 963.3 L1173.4 909.0 L1176.7 932.1 L1179.9 884.6 L1183.1 890.2 L1186.4 895.2 L1189.6 935.2 L1192.8 950.2 L1196.1 965.2 L1199.3 994.0 L1202.6 992.1 L1205.8 992.7 L1209.0 985.2 L1212.3 999.0 L1215.5 994.0 L1218.8 992.1 L1222.0 987.1 L1225.2 997.7 L1228.5 994.0 L1231.7 1000.2 L1234.9 1002.7 L1238.2 990.8 L1241.4 986.5 L1244.7 985.2 L1247.9 966.5 L1251.1 947.7 L1254.4 943.3 L1257.6 949.6 L1260.9 918.3 L1264.1 884.6 L1267.3 859.0 L1270.6 862.7 L1273.8 864.6 L1277.0 917.7 L1280.3 924.6 L1283.5 965.2 L1286.8 972.7 L1290.0 989.6 L1293.2 980.2 L1296.5 995.2 L1299.7 986.5 L1303.0 980.8 L1306.2 986.5 L1309.4 987.1 L1312.7 982.1 L1315.9 944.6 L1319.1 909.0 L1322.4 898.3 L1325.6 889.6 L1328.9 860.8 L1332.1 918.3 L1335.3 929.6 L1338.6 963.3 L1341.8 979.6 L1345.1 985.2 L1348.3 990.8 L1351.5 985.8 L1354.8 965.2 L1358.0 970.8 L1361.2 973.3 L1364.5 984.6 L1367.7 971.5 L1371.0 980.8 L1374.2 935.2 L1377.4 944.6 L1380.7 967.1 L1383.9 985.2 L1387.2 1002.7 L1390.4 977.1 L1393.6 979.0 L1396.9 975.2 L1400.1 988.3 L1403.3 974.6 L1406.6 997.1 L1409.8 1012.7 L1413.1 1008.3 L1416.3 988.3 L1419.5 989.0 L1422.8 988.3 L1426.0 995.2 L1429.3 1001.5 L1432.5 974.6 L1435.7 929.6 L1439.0 909.6 L1442.2 928.3 L1445.4 896.5 L1448.7 904.0 L1451.9 923.3 L1455.2 987.7 L1458.4 991.5 L1461.6 967.1 L1464.9 987.7 L1468.1 982.1 L1471.4 990.8 L1474.6 985.2 L1477.8 984.6 L1481.1 989.0 L1484.3 982.1 L1487.5 982.7 L1490.8 965.8 L1494.0 955.8 L1497.3 977.7 L1500.5 973.2 L1503.7 972.0 L1507.0 978.8 L1510.2 977.0 L1513.5 927.0 L1516.7 973.8 L1519.9 988.8 L1523.2 979.5 L1526.4 984.5 L1529.6 997.6 L1532.9 1005.7 L1536.1 975.1 L1539.4 1002.0 L1542.6 982.6 L1545.8 962.0 L1549.1 960.1 L1552.3 989.5 L1555.6 1006.3 L1558.8 1011.3 L1562.0 975.7 L1565.3 977.6 L1568.5 987.6 L1571.7 999.5 L1575.0 977.0 L1578.2 993.8 L1581.5 970.1 L1584.7 962.6 L1587.9 1000.7 L1591.2 1009.5 L1594.4 987.0 L1597.7 1001.3 L1600.9 995.1 L1604.1 997.0 L1607.4 973.8 L1610.6 987.6 L1613.8 974.5 L1617.1 962.6 L1620.3 989.5 L1623.6 991.3 L1626.8 987.0 L1630.0 1010.7 L1633.3 977.0 L1636.5 994.5 L1639.8 984.5 L1643.0 983.8 L1646.2 981.3 L1649.5 987.0 L1652.7 995.7 L1655.9 993.8 L1659.2 947.0 L1662.4 1008.8 L1665.7 988.2 L1668.9 985.1 L1672.1 988.2 L1675.4 1008.2 L1678.6 983.2 L1681.9 966.3 L1685.1 1004.5 L1688.3 999.5 L1691.6 1003.2 L1694.8 987.0 L1698.0 978.2 L1701.3 1002.6 L1704.5 993.8 L1707.8 987.6 L1711.0 982.0 L1714.2 988.2 L1717.5 987.0 L1720.7 975.1 L1724.0 991.3 L1727.2 970.1 L1730.4 996.3 L1733.7 970.1 L1736.9 972.0 L1740.2 977.6 L1743.4 995.1 L1746.6 994.5 L1749.9 997.6 L1753.1 966.3 L1756.3 982.0 L1759.6 962.0 L1762.8 960.1 L1766.1 993.8 L1769.3 979.5 L1772.5 993.2 L1775.8 1028.2 L1779.0 1005.7 L1782.3 965.7 L1785.5 988.2 L1788.7 978.8 L1792.0 981.3 L1795.2 985.1 L1798.4 981.3 L1801.7 991.3 L1804.9 997.6" fill="none" stroke="#0000ff" stroke-width="4.2" stroke-linejoin="round" stroke-linecap="butt"/>
<path d="M104.7 804.3 L104.7 1050.3 L1888 1050.3" fill="none" stroke="#000" stroke-width="4.45" stroke-linecap="butt" stroke-linejoin="miter"/>
<line x1="185.67" y1="1050.3" x2="185.67" y2="1064.5" stroke="#000" stroke-width="4.45"/>
<text transform="translate(185.67 1119.60) scale(1 1.028)" font-size="60" text-anchor="middle">500</text>
<line x1="509.52" y1="1050.3" x2="509.52" y2="1064.5" stroke="#000" stroke-width="4.45"/>
<text transform="translate(509.52 1119.60) scale(1 1.028)" font-size="60" text-anchor="middle">600</text>
<line x1="833.37" y1="1050.3" x2="833.37" y2="1064.5" stroke="#000" stroke-width="4.45"/>
<text transform="translate(833.37 1119.60) scale(1 1.028)" font-size="60" text-anchor="middle">700</text>
<line x1="1157.22" y1="1050.3" x2="1157.22" y2="1064.5" stroke="#000" stroke-width="4.45"/>
<text transform="translate(1157.22 1119.60) scale(1 1.028)" font-size="60" text-anchor="middle">800</text>
<line x1="1481.0700000000002" y1="1050.3" x2="1481.0700000000002" y2="1064.5" stroke="#000" stroke-width="4.45"/>
<text transform="translate(1481.07 1119.60) scale(1 1.028)" font-size="60" text-anchor="middle">900</text>
<line x1="1804.92" y1="1050.3" x2="1804.92" y2="1064.5" stroke="#000" stroke-width="4.45"/>
<text transform="translate(1804.92 1119.60) scale(1 1.028)" font-size="60" text-anchor="middle">1000</text>
<text transform="translate(995.5 1222.30) scale(1 1.015)" font-size="80" text-anchor="middle">Frequency</text>
<text transform="translate(58.0 928.80) rotate(-90) scale(1 1.015)" font-size="80" text-anchor="middle">Intensity</text>
<text x="104.5" y="761.3" font-size="161">b</text>
<path d="M185.7 1662.5 L188.9 1661.2 L192.1 1653.7 L195.4 1651.2 L198.6 1638.7 L201.9 1660.0 L205.1 1651.2 L208.3 1634.3 L211.6 1637.5 L214.8 1653.7 L218.1 1658.7 L221.3 1660.0 L224.5 1653.1 L227.8 1652.5 L231.0 1660.0 L234.2 1664.3 L237.5 1666.2 L240.7 1653.1 L244.0 1666.8 L247.2 1663.7 L250.4 1671.8 L253.7 1653.7 L256.9 1666.8 L260.2 1653.7 L263.4 1633.7 L266.6 1640.0 L269.9 1677.5 L273.1 1676.8 L276.3 1661.2 L279.6 1660.0 L282.8 1655.0 L286.1 1651.2 L289.3 1658.7 L292.5 1665.6 L295.8 1661.2 L299.0 1666.2 L302.3 1650.0 L305.5 1656.2 L308.7 1677.5 L312.0 1660.0 L315.2 1660.0 L318.4 1687.5 L321.7 1673.7 L324.9 1660.0 L328.2 1663.7 L331.4 1650.0 L334.6 1661.2 L337.9 1657.5 L341.1 1663.7 L344.4 1661.2 L347.6 1660.0 L350.8 1660.0 L354.1 1663.7 L357.3 1660.0 L360.5 1658.7 L363.8 1655.6 L367.0 1658.7 L370.3 1678.7 L373.5 1668.7 L376.7 1645.0 L380.0 1648.1 L383.2 1666.2 L386.5 1653.1 L389.7 1672.5 L392.9 1675.0 L396.2 1666.2 L399.4 1666.8 L402.6 1664.3 L405.9 1662.5 L409.1 1657.5 L412.4 1660.0 L415.6 1653.7 L418.8 1663.1 L422.1 1654.3 L425.3 1660.0 L428.6 1659.3 L431.8 1630.6 L435.0 1676.2 L438.3 1654.3 L441.5 1666.2 L444.8 1660.0 L448.0 1651.2 L451.2 1656.2 L454.5 1658.7 L457.7 1648.1 L460.9 1667.5 L464.2 1663.7 L467.4 1647.5 L470.7 1662.5 L473.9 1675.0 L477.1 1667.5 L480.4 1689.3 L483.6 1663.7 L486.9 1663.1 L490.1 1661.2 L493.3 1648.1 L496.6 1675.6 L499.8 1661.2 L503.0 1656.8 L506.3 1643.7 L509.5 1662.5 L512.8 1660.0 L516.0 1660.6 L519.2 1663.7 L522.5 1682.5 L525.7 1675.0 L529.0 1661.2 L532.2 1668.7 L535.4 1660.0 L538.7 1680.0 L541.9 1676.2 L545.1 1658.7 L548.4 1667.5 L551.6 1660.0 L554.9 1658.7 L558.1 1660.0 L561.3 1676.2 L564.6 1667.5 L567.8 1677.5 L571.1 1662.5 L574.3 1661.2 L577.5 1670.0 L580.8 1663.7 L584.0 1661.2 L587.2 1661.2 L590.5 1661.8 L593.7 1656.2 L597.0 1668.7 L600.2 1685.0 L603.4 1667.5 L606.7 1673.7 L609.9 1656.2 L613.2 1643.7 L616.4 1658.7 L619.6 1656.2 L622.9 1643.8 L626.1 1678.2 L629.3 1658.2 L632.6 1659.5 L635.8 1666.3 L639.1 1652.6 L642.3 1673.2 L645.5 1662.0 L648.8 1663.2 L652.0 1627.6 L655.3 1648.2 L658.5 1635.7 L661.7 1623.8 L665.0 1626.3 L668.2 1642.0 L671.4 1617.0 L674.7 1632.0 L677.9 1689.5 L681.2 1680.7 L684.4 1638.2 L687.6 1690.7 L690.9 1683.2 L694.1 1637.6 L697.4 1687.6 L700.6 1668.2 L703.8 1688.2 L707.1 1644.5 L710.3 1628.2 L713.5 1623.2 L716.8 1624.5 L720.0 1613.8 L723.3 1638.2 L726.5 1647.0 L729.7 1658.2 L733.0 1662.0 L736.2 1675.7 L739.5 1663.8 L742.7 1682.0 L745.9 1660.7 L749.2 1652.0 L752.4 1675.1 L755.6 1660.7 L758.9 1630.7 L762.1 1620.7 L765.4 1635.1 L768.6 1626.3 L771.8 1645.7 L775.1 1652.0 L778.3 1658.2 L781.6 1657.0 L784.8 1662.0 L788.0 1670.1 L791.3 1661.3 L794.5 1660.7 L797.7 1660.7 L801.0 1663.2 L804.2 1653.2 L807.5 1643.8 L810.7 1638.8 L813.9 1620.1 L817.2 1628.2 L820.4 1624.5 L823.7 1605.7 L826.9 1584.5 L830.1 1572.0 L833.4 1538.2 L836.6 1514.2 L839.8 1509.1 L843.1 1517.8 L846.3 1527.0 L849.6 1535.7 L852.8 1573.2 L856.0 1582.0 L859.3 1622.6 L862.5 1623.2 L865.8 1637.0 L869.0 1663.2 L872.2 1663.2 L875.5 1646.3 L878.7 1643.8 L881.9 1649.5 L885.2 1658.2 L888.4 1662.0 L891.7 1668.2 L894.9 1679.5 L898.1 1681.3 L901.4 1660.7 L904.6 1670.7 L907.9 1663.2 L911.1 1680.1 L914.3 1664.5 L917.6 1664.5 L920.8 1646.0 L924.0 1682.0 L927.3 1683.2 L930.5 1669.5 L933.8 1662.0 L937.0 1647.0 L940.2 1650.7 L943.5 1623.2 L946.7 1597.6 L950.0 1625.7 L953.2 1593.2 L956.4 1604.5 L959.7 1590.7 L962.9 1572.0 L966.1 1552.6 L969.4 1569.5 L972.6 1544.5 L975.9 1540.7 L979.1 1559.5 L982.3 1592.0 L985.6 1613.2 L988.8 1627.6 L992.1 1648.8 L995.3 1651.3 L998.5 1612.6 L1001.8 1615.1 L1005.0 1616.3 L1008.2 1641.3 L1011.5 1638.8 L1014.7 1660.7 L1018.0 1645.1 L1021.2 1649.5 L1024.4 1654.5 L1027.7 1659.5 L1030.9 1653.2 L1034.2 1660.7 L1037.4 1662.0 L1040.6 1678.2 L1043.9 1668.2 L1047.1 1663.2 L1050.3 1674.5 L1053.6 1657.2 L1056.8 1680.7 L1060.1 1665.7 L1063.3 1674.5 L1066.5 1663.2 L1069.8 1662.0 L1073.0 1663.2 L1076.3 1655.7 L1079.5 1653.8 L1082.7 1660.1 L1086.0 1670.7 L1089.2 1667.0 L1092.5 1681.3 L1095.7 1670.7 L1098.9 1659.5 L1102.2 1660.7 L1105.4 1673.8 L1108.6 1675.1 L1111.9 1672.6 L1115.1 1687.6 L1118.4 1688.8 L1121.6 1680.7 L1124.8 1670.7 L1128.1 1669.5 L1131.3 1684.5 L1134.6 1664.5 L1137.8 1672.6 L1141.0 1663.2 L1144.3 1663.2 L1147.5 1673.2 L1150.7 1683.2 L1154.0 1660.7 L1157.2 1653.2 L1160.5 1659.5 L1163.7 1660.1 L1166.9 1662.0 L1170.2 1661.3 L1173.4 1653.2 L1176.7 1655.1 L1179.9 1658.8 L1183.1 1663.8 L1186.4 1657.6 L1189.6 1658.8 L1192.8 1645.1 L1196.1 1654.5 L1199.3 1648.2 L1202.6 1627.0 L1205.8 1583.2 L1209.0 1560.7 L1212.3 1553.8 L1215.5 1531.3 L1218.8 1551.3 L1222.0 1592.0 L1225.2 1615.7 L1228.5 1632.0 L1231.7 1648.2 L1234.9 1664.5 L1238.2 1673.2 L1241.4 1665.7 L1244.7 1670.1 L1247.9 1665.7 L1251.1 1662.6 L1254.4 1675.1 L1257.6 1673.2 L1260.9 1671.3 L1264.1 1682.6 L1267.3 1677.0 L1270.6 1677.0 L1273.8 1657.6 L1277.0 1655.1 L1280.3 1632.0 L1283.5 1618.2 L1286.8 1609.5 L1290.0 1603.8 L1293.2 1592.0 L1296.5 1567.0 L1299.7 1542.6 L1303.0 1548.2 L1306.2 1575.1 L1309.4 1577.6 L1312.7 1623.2 L1315.9 1655.7 L1319.1 1659.5 L1322.4 1662.0 L1325.6 1658.8 L1328.9 1661.3 L1332.1 1667.0 L1335.3 1667.0 L1338.6 1669.5 L1341.8 1670.7 L1345.1 1662.0 L1348.3 1649.5 L1351.5 1604.5 L1354.8 1565.7 L1358.0 1552.0 L1361.2 1550.1 L1364.5 1577.0 L1367.7 1605.1 L1371.0 1608.2 L1374.2 1618.2 L1377.4 1623.2 L1380.7 1633.2 L1383.9 1660.7 L1387.2 1637.6 L1390.4 1648.2 L1393.6 1644.5 L1396.9 1641.3 L1400.1 1632.0 L1403.3 1622.0 L1406.6 1623.2 L1409.8 1637.0 L1413.1 1657.0 L1416.3 1660.1 L1419.5 1657.6 L1422.8 1673.8 L1426.0 1660.7 L1429.3 1670.7 L1432.5 1659.5 L1435.7 1663.2 L1439.0 1667.6 L1442.2 1700.1 L1445.4 1695.1 L1448.7 1672.0 L1451.9 1691.3 L1455.2 1674.5 L1458.4 1663.2 L1461.6 1660.7 L1464.9 1672.0 L1468.1 1647.0 L1471.4 1603.8 L1474.6 1607.6 L1477.8 1588.8 L1481.1 1590.7 L1484.3 1570.7 L1487.5 1595.1 L1490.8 1607.0 L1494.0 1618.2 L1497.3 1628.2 L1500.5 1638.7 L1503.7 1633.1 L1507.0 1636.8 L1510.2 1645.0 L1513.5 1630.0 L1516.7 1627.5 L1519.9 1626.2 L1523.2 1623.7 L1526.4 1591.8 L1529.6 1622.5 L1532.9 1602.5 L1536.1 1584.3 L1539.4 1630.0 L1542.6 1671.2 L1545.8 1661.8 L1549.1 1681.8 L1552.3 1663.7 L1555.6 1663.7 L1558.8 1667.5 L1562.0 1676.2 L1565.3 1661.2 L1568.5 1665.0 L1571.7 1678.7 L1575.0 1675.0 L1578.2 1666.8 L1581.5 1661.8 L1584.7 1661.8 L1587.9 1662.5 L1591.2 1663.7 L1594.4 1652.5 L1597.7 1658.7 L1600.9 1662.5 L1604.1 1651.8 L1607.4 1653.7 L1610.6 1663.7 L1613.8 1678.7 L1617.1 1658.7 L1620.3 1692.5 L1623.6 1670.0 L1626.8 1653.1 L1630.0 1661.2 L1633.3 1668.7 L1636.5 1666.8 L1639.8 1671.2 L1643.0 1676.2 L1646.2 1650.6 L1649.5 1657.5 L1652.7 1663.7 L1655.9 1653.7 L1659.2 1677.5 L1662.4 1636.2 L1665.7 1680.0 L1668.9 1681.2 L1672.1 1655.6 L1675.4 1652.5 L1678.6 1639.3 L1681.9 1642.5 L1685.1 1678.7 L1688.3 1680.0 L1691.6 1680.0 L1694.8 1671.2 L1698.0 1660.0 L1701.3 1663.7 L1704.5 1658.7 L1707.8 1676.2 L1711.0 1675.6 L1714.2 1636.8 L1717.5 1653.7 L1720.7 1673.7 L1724.0 1663.7 L1727.2 1656.2 L1730.4 1658.7 L1733.7 1656.8 L1736.9 1658.7 L1740.2 1671.8 L1743.4 1638.7 L1746.6 1645.6 L1749.9 1678.7 L1753.1 1663.7 L1756.3 1660.0 L1759.6 1652.5 L1762.8 1674.3 L1766.1 1647.5 L1769.3 1656.2 L1772.5 1660.6 L1775.8 1662.5 L1779.0 1656.2 L1782.3 1643.7 L1785.5 1671.2 L1788.7 1657.5 L1792.0 1661.2 L1795.2 1648.7 L1798.4 1661.2 L1801.7 1661.8 L1804.9 1664.3" fill="none" stroke="#ff0000" stroke-width="4.2" stroke-linejoin="round" stroke-linecap="butt"/>
<path d="M185.7 1651.7 L188.9 1646.7 L192.1 1672.3 L195.4 1635.0 L198.6 1645.6 L201.9 1641.1 L205.1 1656.6 L208.3 1672.3 L211.6 1655.8 L214.8 1639.7 L218.1 1625.0 L221.3 1661.8 L224.5 1665.6 L227.8 1630.6 L231.0 1655.6 L234.2 1653.7 L237.5 1659.3 L240.7 1662.5 L244.0 1671.8 L247.2 1653.7 L250.4 1631.2 L253.7 1664.3 L256.9 1638.7 L260.2 1640.6 L263.4 1645.6 L266.6 1623.1 L269.9 1664.3 L273.1 1651.2 L276.3 1661.8 L279.6 1661.8 L282.8 1626.8 L286.1 1646.2 L289.3 1662.5 L292.5 1658.7 L295.8 1618.7 L299.0 1665.6 L302.3 1651.2 L305.5 1694.3 L308.7 1653.7 L312.0 1632.5 L315.2 1616.2 L318.4 1661.8 L321.7 1652.5 L324.9 1673.1 L328.2 1680.0 L331.4 1646.8 L334.6 1653.7 L337.9 1666.8 L341.1 1651.8 L344.4 1644.3 L347.6 1662.5 L350.8 1653.7 L354.1 1665.6 L357.3 1666.8 L360.5 1685.6 L363.8 1658.7 L367.0 1656.8 L370.3 1630.6 L373.5 1628.7 L376.7 1697.5 L380.0 1648.5 L383.2 1660.0 L386.5 1675.0 L389.7 1688.7 L392.9 1660.6 L396.2 1661.2 L399.4 1663.1 L402.6 1659.3 L405.9 1664.3 L409.1 1661.8 L412.4 1659.3 L415.6 1663.1 L418.8 1666.8 L422.1 1659.7 L425.3 1666.8 L428.6 1663.5 L431.8 1663.2 L435.0 1662.5 L438.3 1675.0 L441.5 1687.5 L444.8 1675.0 L448.0 1668.1 L451.2 1673.1 L454.5 1668.7 L457.7 1664.3 L460.9 1666.2 L464.2 1709.3 L467.4 1656.8 L470.7 1664.3 L473.9 1676.2 L477.1 1667.5 L480.4 1683.7 L483.6 1645.0 L486.9 1670.0 L490.1 1661.8 L493.3 1680.0 L496.6 1659.3 L499.8 1670.0 L503.0 1653.7 L506.3 1653.7 L509.5 1660.0 L512.8 1665.0 L516.0 1677.5 L519.2 1678.7 L522.5 1662.5 L525.7 1607.5 L529.0 1593.7 L532.2 1566.2 L535.4 1609.3 L538.7 1595.6 L541.9 1597.5 L545.1 1655.0 L548.4 1686.2 L551.6 1677.5 L554.9 1650.6 L558.1 1645.6 L561.3 1678.1 L564.6 1673.7 L567.8 1660.6 L571.1 1674.3 L574.3 1683.7 L577.5 1684.3 L580.8 1633.1 L584.0 1686.8 L587.2 1678.7 L590.5 1695.0 L593.7 1699.3 L597.0 1636.2 L600.2 1617.5 L603.4 1653.7 L606.7 1658.1 L609.9 1624.3 L613.2 1650.0 L616.4 1650.6 L619.6 1650.0 L622.9 1675.0 L626.1 1695.6 L629.3 1676.2 L632.6 1630.0 L635.8 1660.0 L639.1 1668.7 L642.3 1672.5 L645.5 1659.3 L648.8 1678.7 L652.0 1663.1 L655.3 1697.0 L658.5 1660.1 L661.7 1657.6 L665.0 1692.6 L668.2 1693.8 L671.4 1664.5 L674.7 1678.2 L677.9 1691.3 L681.2 1662.0 L684.4 1690.7 L687.6 1693.2 L690.9 1670.7 L694.1 1697.0 L697.4 1692.0 L700.6 1668.2 L703.8 1650.7 L707.1 1662.6 L710.3 1652.6 L713.5 1660.7 L716.8 1638.2 L720.0 1669.5 L723.3 1639.5 L726.5 1673.8 L729.7 1652.0 L733.0 1662.0 L736.2 1659.5 L739.5 1672.0 L742.7 1656.3 L745.9 1660.1 L749.2 1624.5 L752.4 1662.6 L755.6 1644.5 L758.9 1620.7 L762.1 1606.3 L765.4 1641.3 L768.6 1618.2 L771.8 1637.6 L775.1 1649.5 L778.3 1644.5 L781.6 1620.7 L784.8 1660.7 L788.0 1656.3 L791.3 1651.3 L794.5 1657.0 L797.7 1648.2 L801.0 1667.0 L804.2 1662.0 L807.5 1655.7 L810.7 1664.5 L813.9 1653.2 L817.2 1642.0 L820.4 1638.8 L823.7 1638.8 L826.9 1589.5 L830.1 1540.7 L833.4 1523.2 L836.6 1505.7 L839.8 1496.3 L843.1 1491.1 L846.3 1517.0 L849.6 1533.2 L852.8 1577.6 L856.0 1587.6 L859.3 1628.8 L862.5 1607.0 L865.8 1632.6 L869.0 1648.2 L872.2 1655.7 L875.5 1671.3 L878.7 1659.5 L881.9 1631.3 L885.2 1668.8 L888.4 1652.6 L891.7 1662.0 L894.9 1655.1 L898.1 1657.0 L901.4 1658.2 L904.6 1659.5 L907.9 1666.3 L911.1 1649.5 L914.3 1663.2 L917.6 1673.2 L920.8 1670.7 L924.0 1667.6 L927.3 1660.7 L930.5 1660.7 L933.8 1653.8 L937.0 1662.0 L940.2 1669.5 L943.5 1668.2 L946.7 1670.7 L950.0 1659.5 L953.2 1637.0 L956.4 1660.7 L959.7 1647.0 L962.9 1642.6 L966.1 1632.0 L969.4 1641.3 L972.6 1605.7 L975.9 1592.0 L979.1 1630.1 L982.3 1628.2 L985.6 1633.8 L988.8 1662.0 L992.1 1652.0 L995.3 1658.8 L998.5 1664.5 L1001.8 1664.5 L1005.0 1667.6 L1008.2 1686.3 L1011.5 1673.2 L1014.7 1661.3 L1018.0 1665.1 L1021.2 1662.0 L1024.4 1662.0 L1027.7 1674.5 L1030.9 1652.6 L1034.2 1668.2 L1037.4 1687.6 L1040.6 1661.3 L1043.9 1673.2 L1047.1 1656.3 L1050.3 1678.2 L1053.6 1676.3 L1056.8 1666.3 L1060.1 1660.7 L1063.3 1673.8 L1066.5 1672.6 L1069.8 1680.7 L1073.0 1672.0 L1076.3 1660.7 L1079.5 1635.1 L1082.7 1674.5 L1086.0 1637.0 L1089.2 1682.0 L1092.5 1695.7 L1095.7 1658.8 L1098.9 1660.7 L1102.2 1678.8 L1105.4 1665.7 L1108.6 1668.8 L1111.9 1713.2 L1115.1 1670.7 L1118.4 1660.7 L1121.6 1680.7 L1124.8 1658.8 L1128.1 1666.3 L1131.3 1678.2 L1134.6 1653.2 L1137.8 1656.3 L1141.0 1670.7 L1144.3 1632.6 L1147.5 1669.5 L1150.7 1653.8 L1154.0 1681.3 L1157.2 1650.7 L1160.5 1661.3 L1163.7 1664.5 L1166.9 1668.2 L1170.2 1667.0 L1173.4 1639.5 L1176.7 1630.7 L1179.9 1671.3 L1183.1 1649.5 L1186.4 1657.6 L1189.6 1666.3 L1192.8 1643.2 L1196.1 1655.1 L1199.3 1655.7 L1202.6 1637.0 L1205.8 1582.6 L1209.0 1605.7 L1212.3 1558.2 L1215.5 1563.8 L1218.8 1568.8 L1222.0 1608.8 L1225.2 1623.8 L1228.5 1638.8 L1231.7 1667.6 L1234.9 1665.7 L1238.2 1666.3 L1241.4 1658.8 L1244.7 1672.6 L1247.9 1667.6 L1251.1 1665.7 L1254.4 1660.7 L1257.6 1671.3 L1260.9 1667.6 L1264.1 1673.8 L1267.3 1676.3 L1270.6 1664.5 L1273.8 1660.1 L1277.0 1658.8 L1280.3 1640.1 L1283.5 1621.3 L1286.8 1617.0 L1290.0 1623.2 L1293.2 1592.0 L1296.5 1558.2 L1299.7 1532.6 L1303.0 1536.3 L1306.2 1538.2 L1309.4 1591.3 L1312.7 1598.2 L1315.9 1638.8 L1319.1 1646.3 L1322.4 1663.2 L1325.6 1653.8 L1328.9 1668.8 L1332.1 1660.1 L1335.3 1654.5 L1338.6 1660.1 L1341.8 1660.7 L1345.1 1655.7 L1348.3 1618.2 L1351.5 1582.6 L1354.8 1572.0 L1358.0 1563.2 L1361.2 1534.5 L1364.5 1592.0 L1367.7 1603.2 L1371.0 1637.0 L1374.2 1653.2 L1377.4 1658.8 L1380.7 1664.5 L1383.9 1659.5 L1387.2 1638.8 L1390.4 1644.5 L1393.6 1647.0 L1396.9 1658.2 L1400.1 1645.1 L1403.3 1654.5 L1406.6 1608.8 L1409.8 1618.2 L1413.1 1640.7 L1416.3 1658.8 L1419.5 1676.3 L1422.8 1650.7 L1426.0 1652.6 L1429.3 1648.8 L1432.5 1662.0 L1435.7 1648.2 L1439.0 1670.7 L1442.2 1686.3 L1445.4 1682.0 L1448.7 1662.0 L1451.9 1662.6 L1455.2 1662.0 L1458.4 1668.8 L1461.6 1675.1 L1464.9 1648.2 L1468.1 1603.2 L1471.4 1583.2 L1474.6 1602.0 L1477.8 1570.1 L1481.1 1577.6 L1484.3 1597.0 L1487.5 1661.3 L1490.8 1665.1 L1494.0 1640.7 L1497.3 1661.3 L1500.5 1655.7 L1503.7 1664.5 L1507.0 1658.8 L1510.2 1658.2 L1513.5 1662.6 L1516.7 1655.7 L1519.9 1656.3 L1523.2 1639.5 L1526.4 1629.5 L1529.6 1651.3 L1532.9 1646.8 L1536.1 1645.6 L1539.4 1652.5 L1542.6 1650.6 L1545.8 1600.6 L1549.1 1647.5 L1552.3 1662.5 L1555.6 1653.1 L1558.8 1658.1 L1562.0 1671.2 L1565.3 1679.3 L1568.5 1648.7 L1571.7 1675.6 L1575.0 1656.2 L1578.2 1635.6 L1581.5 1633.7 L1584.7 1663.1 L1587.9 1680.0 L1591.2 1685.0 L1594.4 1649.3 L1597.7 1651.2 L1600.9 1661.2 L1604.1 1673.1 L1607.4 1650.6 L1610.6 1667.5 L1613.8 1643.7 L1617.1 1636.2 L1620.3 1674.3 L1623.6 1683.1 L1626.8 1660.6 L1630.0 1675.0 L1633.3 1668.7 L1636.5 1670.6 L1639.8 1647.5 L1643.0 1661.2 L1646.2 1648.1 L1649.5 1636.2 L1652.7 1663.1 L1655.9 1665.0 L1659.2 1660.6 L1662.4 1684.3 L1665.7 1650.6 L1668.9 1668.1 L1672.1 1658.1 L1675.4 1657.5 L1678.6 1655.0 L1681.9 1660.6 L1685.1 1669.3 L1688.3 1667.5 L1691.6 1620.6 L1694.8 1682.5 L1698.0 1661.8 L1701.3 1658.7 L1704.5 1661.8 L1707.8 1681.8 L1711.0 1656.8 L1714.2 1640.0 L1717.5 1678.1 L1720.7 1673.1 L1724.0 1676.8 L1727.2 1660.6 L1730.4 1651.8 L1733.7 1676.2 L1736.9 1667.5 L1740.2 1661.2 L1743.4 1655.6 L1746.6 1661.8 L1749.9 1660.6 L1753.1 1648.7 L1756.3 1665.0 L1759.6 1643.7 L1762.8 1670.0 L1766.1 1643.7 L1769.3 1645.6 L1772.5 1651.2 L1775.8 1668.7 L1779.0 1668.1 L1782.3 1671.2 L1785.5 1640.0 L1788.7 1655.6 L1792.0 1635.6 L1795.2 1633.7 L1798.4 1667.5 L1801.7 1653.1 L1804.9 1666.8" fill="none" stroke="#0000ff" stroke-width="4.2" stroke-linejoin="round" stroke-linecap="butt"/>
<path d="M104.7 1477.9 L104.7 1723.9 L1888 1723.9" fill="none" stroke="#000" stroke-width="4.45" stroke-linecap="butt" stroke-linejoin="miter"/>
<line x1="185.67" y1="1723.9" x2="185.67" y2="1738.1000000000001" stroke="#000" stroke-width="4.45"/>
<text transform="translate(185.67 1793.20) scale(1 1.028)" font-size="60" text-anchor="middle">500</text>
<line x1="509.52" y1="1723.9" x2="509.52" y2="1738.1000000000001" stroke="#000" stroke-width="4.45"/>
<text transform="translate(509.52 1793.20) scale(1 1.028)" font-size="60" text-anchor="middle">600</text>
<line x1="833.37" y1="1723.9" x2="833.37" y2="1738.1000000000001" stroke="#000" stroke-width="4.45"/>
<text transform="translate(833.37 1793.20) scale(1 1.028)" font-size="60" text-anchor="middle">700</text>
<line x1="1157.22" y1="1723.9" x2="1157.22" y2="1738.1000000000001" stroke="#000" stroke-width="4.45"/>
<text transform="translate(1157.22 1793.20) scale(1 1.028)" font-size="60" text-anchor="middle">800</text>
<line x1="1481.0700000000002" y1="1723.9" x2="1481.0700000000002" y2="1738.1000000000001" stroke="#000" stroke-width="4.45"/>
<text transform="translate(1481.07 1793.20) scale(1 1.028)" font-size="60" text-anchor="middle">900</text>
<line x1="1804.92" y1="1723.9" x2="1804.92" y2="1738.1000000000001" stroke="#000" stroke-width="4.45"/>
<text transform="translate(1804.92 1793.20) scale(1 1.028)" font-size="60" text-anchor="middle">1000</text>
<text transform="translate(995.5 1895.90) scale(1 1.015)" font-size="80" text-anchor="middle">Frequency</text>
<text transform="translate(58.0 1602.40) rotate(-90) scale(1 1.015)" font-size="80" text-anchor="middle">Intensity</text>
<text x="102.3" y="1434.9" font-size="164">c</text>
</svg></body></html>
